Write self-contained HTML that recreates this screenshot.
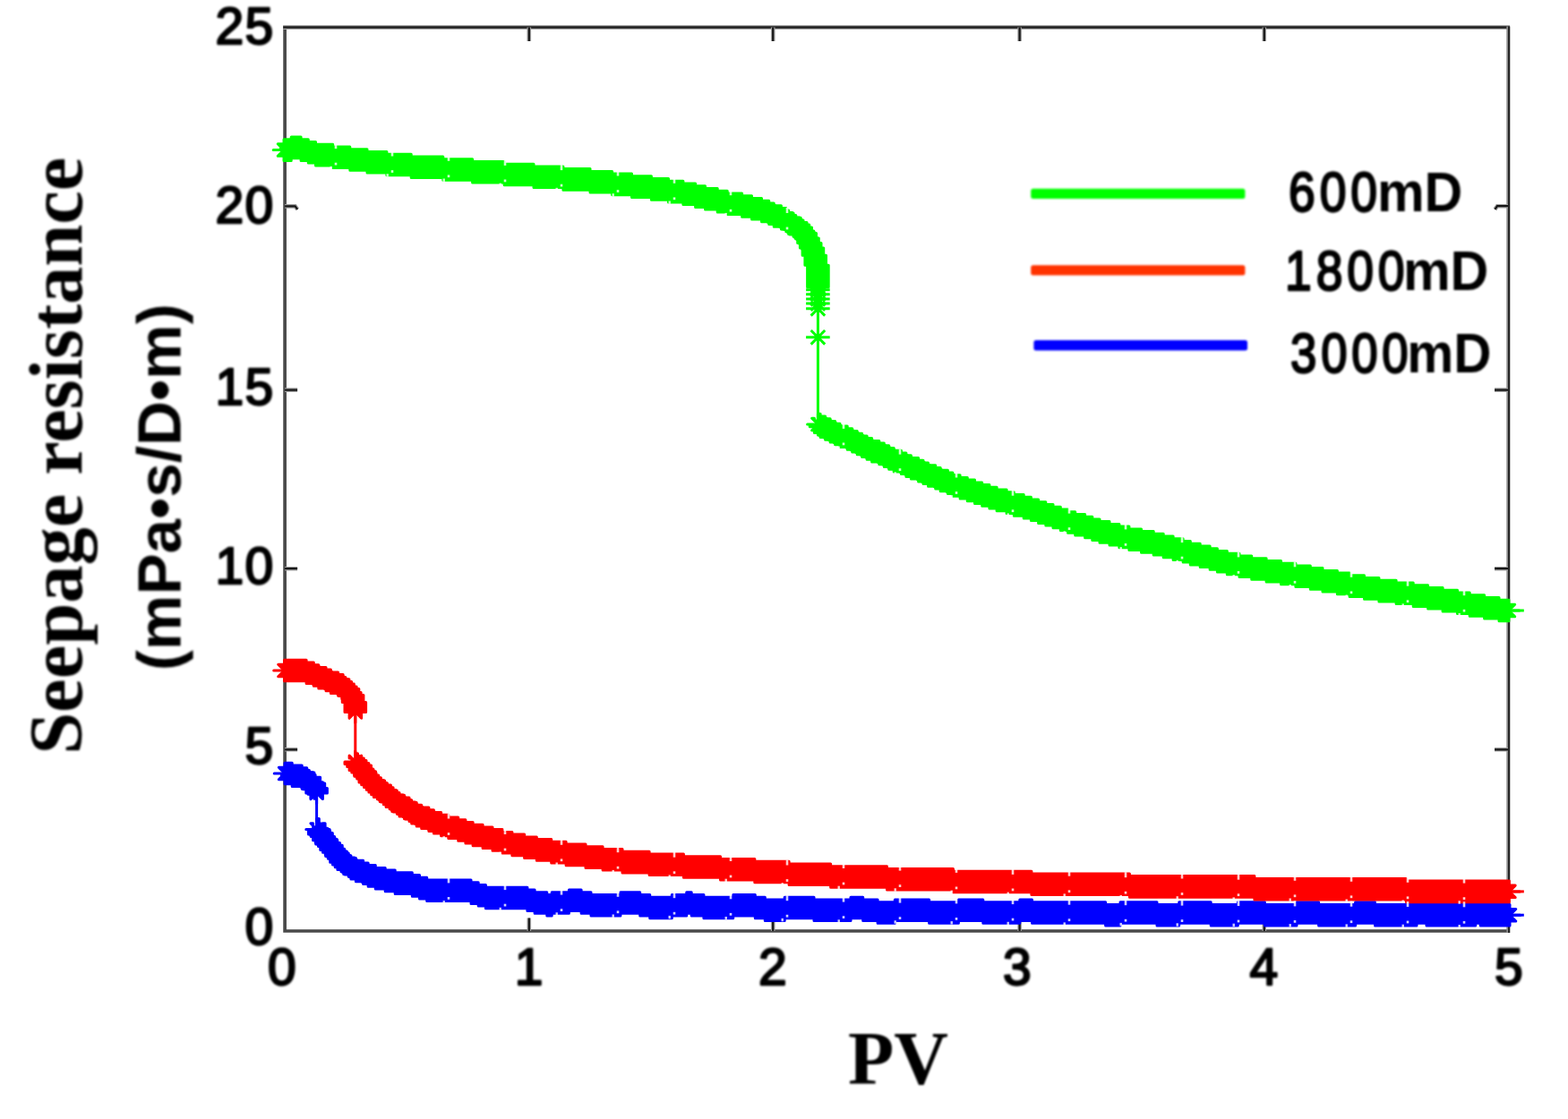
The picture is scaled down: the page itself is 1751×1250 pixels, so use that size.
<!DOCTYPE html>
<html lang="en"><head><meta charset="utf-8"><title>Seepage resistance vs PV</title>
<style>
html,body{margin:0;padding:0;background:#fff;}
body{width:1751px;height:1250px;overflow:hidden;}
svg{display:block;}
</style></head><body>
<svg width="1751" height="1250" viewBox="0 0 1751 1250">
<filter id="soft" x="-5%" y="-5%" width="110%" height="110%"><feGaussianBlur stdDeviation="1"/></filter>
<rect width="1751" height="1250" fill="#fff"/>
<g fill="none">
<path d="M318.1 30.6V1040H1684" stroke="#494949" stroke-width="3.7" stroke-linecap="square"/>
<path d="M316.2 30.6H1686" stroke="#a9a9a9" stroke-width="5"/>
<path d="M316.2 30.5H1686" stroke="#1e1e1e" stroke-width="2.3"/>
<path d="M1684.3 29.4V1042" stroke="#8a8a8a" stroke-width="4"/>
<path d="M1685.1 29.4V1042" stroke="#222" stroke-width="2.1"/>
<path d="M590.8 1040v-14.5M590.8 30.6v15.5M863.2 1040v-14.5M863.2 30.6v15.5M1138.6 1040v-14.5M1138.6 30.6v15.5M1411.8 1040v-14.5M1411.8 30.6v15.5M318.1 837.3h14M1684 837.3h-15M318.1 635.2h14M1684 635.2h-15M318.1 435.6h14M1684 435.6h-15M318.1 230.4h11.5l2.6 3.4M1684 230.2h-12l-2.6 3.6" stroke="#a0a0a0" stroke-width="4.6"/>
<path d="M590.8 1040v-14.5M590.8 30.6v15.5M863.2 1040v-14.5M863.2 30.6v15.5M1138.6 1040v-14.5M1138.6 30.6v15.5M1411.8 1040v-14.5M1411.8 30.6v15.5M318.1 837.3h14M1684 837.3h-15M318.1 635.2h14M1684 635.2h-15M318.1 435.6h14M1684 435.6h-15M318.1 230.4h11.5l2.6 3.4M1684 230.2h-12l-2.6 3.6" stroke="#161616" stroke-width="2.2"/>
</g>
<g fill="#00ff00" stroke="#00ff00" stroke-width="3" stroke-linejoin="round"><path d="M913.4 320.8V474.1M900.1 323.7h26.6M913.4 310.4v26.6M905.6 315.9l15.6 15.6M905.6 331.5l15.6 -15.6M900.1 328.8h26.6M913.4 315.5v26.6M905.6 321l15.6 15.6M905.6 336.6l15.6 -15.6M900.1 334h26.6M913.4 320.7v26.6M905.6 326.2l15.6 15.6M905.6 341.8l15.6 -15.6M900.1 339.1h26.6M913.4 325.8v26.6M905.6 331.3l15.6 15.6M905.6 346.9l15.6 -15.6M900.1 344.8h26.6M913.4 331.5v26.6M905.6 337l15.6 15.6M905.6 352.6l15.6 -15.6M900.1 376.8h26.6M913.4 363.5v26.6M905.6 369l15.6 15.6M905.6 384.6l15.6 -15.6" fill="none"/><path d="M1684.9 682H1701.8" fill="none"/><polygon points="328.8,167.6 337,167.6 337,164.9 347.9,164.9 347.9,167.6 356.1,167.6 356.1,170.3 364.3,170.3 364.3,173.1 383.5,173.1 383.5,175.8 402.6,175.8 402.6,178.5 421.8,178.5 421.8,181.3 443.7,181.3 443.7,184 471,184 471,186.8 506.6,186.8 506.6,189.5 539.4,189.5 539.4,192.2 575,192.2 575,195 607.8,195 607.8,197.7 640.7,197.7 640.7,200.4 670.8,200.4 670.8,203.2 695.4,203.2 695.4,205.9 717.3,205.9 717.3,208.6 739.2,208.6 739.2,211.4 758.3,211.4 758.3,214.1 774.7,214.1 774.7,216.8 788.4,216.8 788.4,219.6 799.3,219.6 799.3,222.3 813,222.3 813,225.1 824,225.1 824,227.8 840.4,227.8 840.4,230.5 851.3,230.5 851.3,233.3 862.3,233.3 862.3,236 870.5,236 870.5,238.7 876,238.7 876,241.5 884.2,241.5 884.2,244.2 889.6,244.2 889.6,246.9 892.4,246.9 892.4,249.7 897.8,249.7 897.8,252.4 900.6,252.4 900.6,255.2 906,255.2 906,257.9 908.8,257.9 908.8,260.6 911.5,260.6 911.5,266.1 914.3,266.1 914.3,271.6 917,271.6 917,277 919.7,277 919.7,285.2 922.5,285.2 922.5,296.2 925.2,296.2 925.2,320.8 901.6,320.8 901.6,296.2 898.9,296.2 898.9,285.2 896.1,285.2 896.1,277 893.4,277 893.4,271.6 890.7,271.6 890.7,266.1 887.9,266.1 887.9,260.6 885.2,260.6 885.2,257.9 882.4,257.9 882.4,255.2 877,255.2 877,252.4 874.2,252.4 874.2,249.7 868.8,249.7 868.8,246.9 866,246.9 866,244.2 860.6,244.2 860.6,241.5 852.4,241.5 852.4,238.7 846.9,238.7 846.9,236 838.7,236 838.7,233.3 827.7,233.3 827.7,230.5 816.8,230.5 816.8,227.8 800.4,227.8 800.4,225.1 789.4,225.1 789.4,222.3 775.7,222.3 775.7,219.6 764.8,219.6 764.8,216.8 751.1,216.8 751.1,214.1 734.7,214.1 734.7,211.4 715.6,211.4 715.6,208.6 693.7,208.6 693.7,205.9 671.8,205.9 671.8,203.2 647.2,203.2 647.2,200.4 617.1,200.4 617.1,197.7 584.2,197.7 584.2,195 551.4,195 551.4,192.2 515.8,192.2 515.8,189.5 483,189.5 483,186.8 447.4,186.8 447.4,184 420.1,184 420.1,181.3 398.2,181.3 398.2,178.5 379,178.5 379,175.8 359.9,175.8 359.9,173.1 340.7,173.1 340.7,170.3 332.5,170.3 332.5,167.6 324.3,167.6 324.3,164.9 313.4,164.9 313.4,167.6 305.2,167.6"/><polygon points="317,179.4 325.2,179.4 325.2,176.7 336.1,176.7 336.1,179.4 344.3,179.4 344.3,182.1 352.5,182.1 352.5,184.9 371.7,184.9 371.7,187.6 390.8,187.6 390.8,190.3 410,190.3 410,193.1 431.9,193.1 431.9,195.8 459.2,195.8 459.2,198.6 494.8,198.6 494.8,201.3 527.6,201.3 527.6,204 563.2,204 563.2,206.8 596,206.8 596,209.5 628.9,209.5 628.9,212.2 659,212.2 659,215 683.6,215 683.6,217.7 705.5,217.7 705.5,220.4 727.4,220.4 727.4,223.2 746.5,223.2 746.5,225.9 762.9,225.9 762.9,228.6 776.6,228.6 776.6,231.4 787.5,231.4 787.5,234.1 801.2,234.1 801.2,236.9 812.2,236.9 812.2,239.6 828.6,239.6 828.6,242.3 839.5,242.3 839.5,245.1 850.5,245.1 850.5,247.8 858.7,247.8 858.7,250.5 864.2,250.5 864.2,253.3 872.4,253.3 872.4,256 877.8,256 877.8,258.7 880.6,258.7 880.6,261.5 886,261.5 886,264.2 888.8,264.2 888.8,266.9 894.2,266.9 894.2,269.7 897,269.7 897,272.4 899.7,272.4 899.7,277.9 902.5,277.9 902.5,283.4 905.2,283.4 905.2,288.8 907.9,288.8 907.9,297 910.7,297 910.7,308 913.4,308 913.4,332.6 913.4,309 913.4,284.4 910.7,284.4 910.7,273.4 907.9,273.4 907.9,265.2 905.2,265.2 905.2,259.8 902.5,259.8 902.5,254.3 899.7,254.3 899.7,248.8 897,248.8 897,246.1 894.2,246.1 894.2,243.3 888.8,243.3 888.8,240.6 886,240.6 886,237.9 880.6,237.9 880.6,235.1 877.8,235.1 877.8,232.4 872.4,232.4 872.4,229.7 864.2,229.7 864.2,226.9 858.7,226.9 858.7,224.2 850.5,224.2 850.5,221.5 839.5,221.5 839.5,218.7 828.6,218.7 828.6,216 812.2,216 812.2,213.3 801.2,213.3 801.2,210.5 787.5,210.5 787.5,207.8 776.6,207.8 776.6,205 762.9,205 762.9,202.3 746.5,202.3 746.5,199.6 727.4,199.6 727.4,196.8 705.5,196.8 705.5,194.1 683.6,194.1 683.6,191.4 659,191.4 659,188.6 628.9,188.6 628.9,185.9 596,185.9 596,183.2 563.2,183.2 563.2,180.4 527.6,180.4 527.6,177.7 494.8,177.7 494.8,175 459.2,175 459.2,172.2 431.9,172.2 431.9,169.5 410,169.5 410,166.7 390.8,166.7 390.8,164 371.7,164 371.7,161.3 352.5,161.3 352.5,158.5 344.3,158.5 344.3,155.8 336.1,155.8 336.1,153.1 325.2,153.1 325.2,155.8 317,155.8"/><polygon points="323.7,174.3 331.9,174.3 331.9,171.6 342.9,171.6 342.9,174.3 351.1,174.3 351.1,177.1 359.3,177.1 359.3,179.8 378.4,179.8 378.4,182.6 397.6,182.6 397.6,185.3 416.7,185.3 416.7,188 438.6,188 438.6,190.8 466,190.8 466,193.5 501.6,193.5 501.6,196.2 534.4,196.2 534.4,199 569.9,199 569.9,201.7 602.8,201.7 602.8,204.4 635.6,204.4 635.6,207.2 665.7,207.2 665.7,209.9 690.3,209.9 690.3,212.7 712.2,212.7 712.2,215.4 734.1,215.4 734.1,218.1 753.3,218.1 753.3,220.9 769.7,220.9 769.7,223.6 783.4,223.6 783.4,226.3 794.3,226.3 794.3,229.1 808,229.1 808,231.8 818.9,231.8 818.9,234.5 835.3,234.5 835.3,237.3 846.3,237.3 846.3,240 857.2,240 857.2,242.7 865.4,242.7 865.4,245.5 870.9,245.5 870.9,248.2 879.1,248.2 879.1,251 884.6,251 884.6,253.7 887.3,253.7 887.3,256.4 892.8,256.4 892.8,259.2 895.5,259.2 895.5,261.9 901,261.9 901,264.6 903.7,264.6 903.7,267.4 906.5,267.4 906.5,272.8 909.2,272.8 909.2,278.3 911.9,278.3 911.9,283.8 914.7,283.8 914.7,292 917.4,292 917.4,302.9 920.1,302.9 920.1,327.6 906.6,314.1 906.6,289.4 903.9,289.4 903.9,278.5 901.2,278.5 901.2,270.3 898.4,270.3 898.4,264.8 895.7,264.8 895.7,259.3 893,259.3 893,253.9 890.2,253.9 890.2,251.1 887.5,251.1 887.5,248.4 882,248.4 882,245.7 879.3,245.7 879.3,242.9 873.8,242.9 873.8,240.2 871.1,240.2 871.1,237.5 865.6,237.5 865.6,234.7 857.4,234.7 857.4,232 851.9,232 851.9,229.2 843.7,229.2 843.7,226.5 832.8,226.5 832.8,223.8 821.8,223.8 821.8,221 805.4,221 805.4,218.3 794.5,218.3 794.5,215.6 780.8,215.6 780.8,212.8 769.9,212.8 769.9,210.1 756.2,210.1 756.2,207.4 739.8,207.4 739.8,204.6 720.6,204.6 720.6,201.9 698.7,201.9 698.7,199.2 676.8,199.2 676.8,196.4 652.2,196.4 652.2,193.7 622.1,193.7 622.1,190.9 589.3,190.9 589.3,188.2 556.4,188.2 556.4,185.5 520.9,185.5 520.9,182.7 488.1,182.7 488.1,180 452.5,180 452.5,177.3 425.1,177.3 425.1,174.5 403.2,174.5 403.2,171.8 384.1,171.8 384.1,169.1 364.9,169.1 364.9,166.3 345.8,166.3 345.8,163.6 337.6,163.6 337.6,160.8 329.4,160.8 329.4,158.1 318.4,158.1 318.4,160.8 310.2,160.8"/><polygon points="323.7,160.8 331.9,160.8 331.9,158.1 342.9,158.1 342.9,160.8 351.1,160.8 351.1,163.6 359.3,163.6 359.3,166.3 378.4,166.3 378.4,169.1 397.6,169.1 397.6,171.8 416.7,171.8 416.7,174.5 438.6,174.5 438.6,177.3 466,177.3 466,180 501.6,180 501.6,182.7 534.4,182.7 534.4,185.5 569.9,185.5 569.9,188.2 602.8,188.2 602.8,190.9 635.6,190.9 635.6,193.7 665.7,193.7 665.7,196.4 690.3,196.4 690.3,199.2 712.2,199.2 712.2,201.9 734.1,201.9 734.1,204.6 753.3,204.6 753.3,207.4 769.7,207.4 769.7,210.1 783.4,210.1 783.4,212.8 794.3,212.8 794.3,215.6 808,215.6 808,218.3 818.9,218.3 818.9,221 835.3,221 835.3,223.8 846.3,223.8 846.3,226.5 857.2,226.5 857.2,229.2 865.4,229.2 865.4,232 870.9,232 870.9,234.7 879.1,234.7 879.1,237.5 884.6,237.5 884.6,240.2 887.3,240.2 887.3,242.9 892.8,242.9 892.8,245.7 895.5,245.7 895.5,248.4 901,248.4 901,251.1 903.7,251.1 903.7,253.9 906.5,253.9 906.5,259.3 909.2,259.3 909.2,264.8 911.9,264.8 911.9,270.3 914.7,270.3 914.7,278.5 917.4,278.5 917.4,289.4 920.1,289.4 920.1,314.1 906.6,327.6 906.6,302.9 903.9,302.9 903.9,292 901.2,292 901.2,283.8 898.4,283.8 898.4,278.3 895.7,278.3 895.7,272.8 893,272.8 893,267.4 890.2,267.4 890.2,264.6 887.5,264.6 887.5,261.9 882,261.9 882,259.2 879.3,259.2 879.3,256.4 873.8,256.4 873.8,253.7 871.1,253.7 871.1,251 865.6,251 865.6,248.2 857.4,248.2 857.4,245.5 851.9,245.5 851.9,242.7 843.7,242.7 843.7,240 832.8,240 832.8,237.3 821.8,237.3 821.8,234.5 805.4,234.5 805.4,231.8 794.5,231.8 794.5,229.1 780.8,229.1 780.8,226.3 769.9,226.3 769.9,223.6 756.2,223.6 756.2,220.9 739.8,220.9 739.8,218.1 720.6,218.1 720.6,215.4 698.7,215.4 698.7,212.7 676.8,212.7 676.8,209.9 652.2,209.9 652.2,207.2 622.1,207.2 622.1,204.4 589.3,204.4 589.3,201.7 556.4,201.7 556.4,199 520.9,199 520.9,196.2 488.1,196.2 488.1,193.5 452.5,193.5 452.5,190.8 425.1,190.8 425.1,188 403.2,188 403.2,185.3 384.1,185.3 384.1,182.6 364.9,182.6 364.9,179.8 345.8,179.8 345.8,177.1 337.6,177.1 337.6,174.3 329.4,174.3 329.4,171.6 318.4,171.6 318.4,174.3 310.2,174.3"/><polygon points="925.2,474.1 927.9,474.1 927.9,476.8 933.4,476.8 933.4,479.5 938.9,479.5 938.9,482.3 944.4,482.3 944.4,485 949.8,485 949.8,487.7 958,487.7 958,490.5 963.5,490.5 963.5,493.2 969,493.2 969,496 974.4,496 974.4,498.7 979.9,498.7 979.9,501.4 985.4,501.4 985.4,504.2 993.6,504.2 993.6,506.9 999.1,506.9 999.1,509.6 1004.5,509.6 1004.5,512.4 1010,512.4 1010,515.1 1018.2,515.1 1018.2,517.8 1023.7,517.8 1023.7,520.6 1029.2,520.6 1029.2,523.3 1037.4,523.3 1037.4,526.1 1042.8,526.1 1042.8,528.8 1048.3,528.8 1048.3,531.5 1056.5,531.5 1056.5,534.3 1062,534.3 1062,537 1070.2,537 1070.2,539.7 1075.7,539.7 1075.7,542.5 1083.9,542.5 1083.9,545.2 1092.1,545.2 1092.1,547.9 1100.3,547.9 1100.3,550.7 1108.5,550.7 1108.5,553.4 1116.7,553.4 1116.7,556.1 1124.9,556.1 1124.9,558.9 1135.9,558.9 1135.9,561.6 1144.1,561.6 1144.1,564.4 1155,564.4 1155,567.1 1163.2,567.1 1163.2,569.8 1171.4,569.8 1171.4,572.6 1179.6,572.6 1179.6,575.3 1187.8,575.3 1187.8,578 1196.1,578 1196.1,580.8 1204.3,580.8 1204.3,583.5 1212.5,583.5 1212.5,586.2 1223.4,586.2 1223.4,589 1231.6,589 1231.6,591.7 1239.8,591.7 1239.8,594.4 1250.8,594.4 1250.8,597.2 1261.7,597.2 1261.7,599.9 1272.7,599.9 1272.7,602.7 1286.3,602.7 1286.3,605.4 1300,605.4 1300,608.1 1311,608.1 1311,610.9 1321.9,610.9 1321.9,613.6 1332.9,613.6 1332.9,616.3 1341.1,616.3 1341.1,619.1 1352,619.1 1352,621.8 1362.9,621.8 1362.9,624.5 1371.2,624.5 1371.2,627.3 1382.1,627.3 1382.1,630 1395.8,630 1395.8,632.8 1409.5,632.8 1409.5,635.5 1425.9,635.5 1425.9,638.2 1442.3,638.2 1442.3,641 1458.7,641 1458.7,643.7 1475.1,643.7 1475.1,646.4 1488.8,646.4 1488.8,649.2 1505.2,649.2 1505.2,651.9 1518.9,651.9 1518.9,654.6 1535.3,654.6 1535.3,657.4 1551.7,657.4 1551.7,660.1 1570.9,660.1 1570.9,662.8 1590,662.8 1590,665.6 1606.4,665.6 1606.4,668.3 1622.9,668.3 1622.9,671.1 1639.3,671.1 1639.3,673.8 1653,673.8 1653,676.5 1669.4,676.5 1669.4,679.3 1685.8,679.3 1685.8,682 1696.7,682 1673.1,682 1662.2,682 1662.2,679.3 1645.8,679.3 1645.8,676.5 1629.4,676.5 1629.4,673.8 1615.7,673.8 1615.7,671.1 1599.3,671.1 1599.3,668.3 1582.8,668.3 1582.8,665.6 1566.4,665.6 1566.4,662.8 1547.3,662.8 1547.3,660.1 1528.1,660.1 1528.1,657.4 1511.7,657.4 1511.7,654.6 1495.3,654.6 1495.3,651.9 1481.6,651.9 1481.6,649.2 1465.2,649.2 1465.2,646.4 1451.5,646.4 1451.5,643.7 1435.1,643.7 1435.1,641 1418.7,641 1418.7,638.2 1402.3,638.2 1402.3,635.5 1385.9,635.5 1385.9,632.8 1372.2,632.8 1372.2,630 1358.5,630 1358.5,627.3 1347.6,627.3 1347.6,624.5 1339.3,624.5 1339.3,621.8 1328.4,621.8 1328.4,619.1 1317.5,619.1 1317.5,616.3 1309.3,616.3 1309.3,613.6 1298.3,613.6 1298.3,610.9 1287.4,610.9 1287.4,608.1 1276.4,608.1 1276.4,605.4 1262.7,605.4 1262.7,602.7 1249.1,602.7 1249.1,599.9 1238.1,599.9 1238.1,597.2 1227.2,597.2 1227.2,594.4 1216.2,594.4 1216.2,591.7 1208,591.7 1208,589 1199.8,589 1199.8,586.2 1188.9,586.2 1188.9,583.5 1180.7,583.5 1180.7,580.8 1172.5,580.8 1172.5,578 1164.2,578 1164.2,575.3 1156,575.3 1156,572.6 1147.8,572.6 1147.8,569.8 1139.6,569.8 1139.6,567.1 1131.4,567.1 1131.4,564.4 1120.5,564.4 1120.5,561.6 1112.3,561.6 1112.3,558.9 1101.3,558.9 1101.3,556.1 1093.1,556.1 1093.1,553.4 1084.9,553.4 1084.9,550.7 1076.7,550.7 1076.7,547.9 1068.5,547.9 1068.5,545.2 1060.3,545.2 1060.3,542.5 1052.1,542.5 1052.1,539.7 1046.6,539.7 1046.6,537 1038.4,537 1038.4,534.3 1032.9,534.3 1032.9,531.5 1024.7,531.5 1024.7,528.8 1019.2,528.8 1019.2,526.1 1013.8,526.1 1013.8,523.3 1005.6,523.3 1005.6,520.6 1000.1,520.6 1000.1,517.8 994.6,517.8 994.6,515.1 986.4,515.1 986.4,512.4 980.9,512.4 980.9,509.6 975.5,509.6 975.5,506.9 970,506.9 970,504.2 961.8,504.2 961.8,501.4 956.3,501.4 956.3,498.7 950.8,498.7 950.8,496 945.4,496 945.4,493.2 939.9,493.2 939.9,490.5 934.4,490.5 934.4,487.7 926.2,487.7 926.2,485 920.8,485 920.8,482.3 915.3,482.3 915.3,479.5 909.8,479.5 909.8,476.8 904.3,476.8 904.3,474.1 901.6,474.1"/><polygon points="913.4,485.9 916.1,485.9 916.1,488.6 921.6,488.6 921.6,491.3 927.1,491.3 927.1,494.1 932.6,494.1 932.6,496.8 938,496.8 938,499.5 946.2,499.5 946.2,502.3 951.7,502.3 951.7,505 957.2,505 957.2,507.8 962.6,507.8 962.6,510.5 968.1,510.5 968.1,513.2 973.6,513.2 973.6,516 981.8,516 981.8,518.7 987.3,518.7 987.3,521.4 992.7,521.4 992.7,524.2 998.2,524.2 998.2,526.9 1006.4,526.9 1006.4,529.6 1011.9,529.6 1011.9,532.4 1017.4,532.4 1017.4,535.1 1025.6,535.1 1025.6,537.9 1031,537.9 1031,540.6 1036.5,540.6 1036.5,543.3 1044.7,543.3 1044.7,546.1 1050.2,546.1 1050.2,548.8 1058.4,548.8 1058.4,551.5 1063.9,551.5 1063.9,554.3 1072.1,554.3 1072.1,557 1080.3,557 1080.3,559.7 1088.5,559.7 1088.5,562.5 1096.7,562.5 1096.7,565.2 1104.9,565.2 1104.9,567.9 1113.1,567.9 1113.1,570.7 1124.1,570.7 1124.1,573.4 1132.3,573.4 1132.3,576.2 1143.2,576.2 1143.2,578.9 1151.4,578.9 1151.4,581.6 1159.6,581.6 1159.6,584.4 1167.8,584.4 1167.8,587.1 1176,587.1 1176,589.8 1184.3,589.8 1184.3,592.6 1192.5,592.6 1192.5,595.3 1200.7,595.3 1200.7,598 1211.6,598 1211.6,600.8 1219.8,600.8 1219.8,603.5 1228,603.5 1228,606.2 1239,606.2 1239,609 1249.9,609 1249.9,611.7 1260.9,611.7 1260.9,614.5 1274.5,614.5 1274.5,617.2 1288.2,617.2 1288.2,619.9 1299.2,619.9 1299.2,622.7 1310.1,622.7 1310.1,625.4 1321.1,625.4 1321.1,628.1 1329.3,628.1 1329.3,630.9 1340.2,630.9 1340.2,633.6 1351.1,633.6 1351.1,636.3 1359.4,636.3 1359.4,639.1 1370.3,639.1 1370.3,641.8 1384,641.8 1384,644.6 1397.7,644.6 1397.7,647.3 1414.1,647.3 1414.1,650 1430.5,650 1430.5,652.8 1446.9,652.8 1446.9,655.5 1463.3,655.5 1463.3,658.2 1477,658.2 1477,661 1493.4,661 1493.4,663.7 1507.1,663.7 1507.1,666.4 1523.5,666.4 1523.5,669.2 1539.9,669.2 1539.9,671.9 1559.1,671.9 1559.1,674.6 1578.2,674.6 1578.2,677.4 1594.6,677.4 1594.6,680.1 1611.1,680.1 1611.1,682.9 1627.5,682.9 1627.5,685.6 1641.2,685.6 1641.2,688.3 1657.6,688.3 1657.6,691.1 1674,691.1 1674,693.8 1684.9,693.8 1684.9,670.2 1674,670.2 1674,667.5 1657.6,667.5 1657.6,664.7 1641.2,664.7 1641.2,662 1627.5,662 1627.5,659.3 1611.1,659.3 1611.1,656.5 1594.6,656.5 1594.6,653.8 1578.2,653.8 1578.2,651 1559.1,651 1559.1,648.3 1539.9,648.3 1539.9,645.6 1523.5,645.6 1523.5,642.8 1507.1,642.8 1507.1,640.1 1493.4,640.1 1493.4,637.4 1477,637.4 1477,634.6 1463.3,634.6 1463.3,631.9 1446.9,631.9 1446.9,629.2 1430.5,629.2 1430.5,626.4 1414.1,626.4 1414.1,623.7 1397.7,623.7 1397.7,621 1384,621 1384,618.2 1370.3,618.2 1370.3,615.5 1359.4,615.5 1359.4,612.7 1351.1,612.7 1351.1,610 1340.2,610 1340.2,607.3 1329.3,607.3 1329.3,604.5 1321.1,604.5 1321.1,601.8 1310.1,601.8 1310.1,599.1 1299.2,599.1 1299.2,596.3 1288.2,596.3 1288.2,593.6 1274.5,593.6 1274.5,590.9 1260.9,590.9 1260.9,588.1 1249.9,588.1 1249.9,585.4 1239,585.4 1239,582.6 1228,582.6 1228,579.9 1219.8,579.9 1219.8,577.2 1211.6,577.2 1211.6,574.4 1200.7,574.4 1200.7,571.7 1192.5,571.7 1192.5,569 1184.3,569 1184.3,566.2 1176,566.2 1176,563.5 1167.8,563.5 1167.8,560.8 1159.6,560.8 1159.6,558 1151.4,558 1151.4,555.3 1143.2,555.3 1143.2,552.6 1132.3,552.6 1132.3,549.8 1124.1,549.8 1124.1,547.1 1113.1,547.1 1113.1,544.3 1104.9,544.3 1104.9,541.6 1096.7,541.6 1096.7,538.9 1088.5,538.9 1088.5,536.1 1080.3,536.1 1080.3,533.4 1072.1,533.4 1072.1,530.7 1063.9,530.7 1063.9,527.9 1058.4,527.9 1058.4,525.2 1050.2,525.2 1050.2,522.5 1044.7,522.5 1044.7,519.7 1036.5,519.7 1036.5,517 1031,517 1031,514.3 1025.6,514.3 1025.6,511.5 1017.4,511.5 1017.4,508.8 1011.9,508.8 1011.9,506 1006.4,506 1006.4,503.3 998.2,503.3 998.2,500.6 992.7,500.6 992.7,497.8 987.3,497.8 987.3,495.1 981.8,495.1 981.8,492.4 973.6,492.4 973.6,489.6 968.1,489.6 968.1,486.9 962.6,486.9 962.6,484.2 957.2,484.2 957.2,481.4 951.7,481.4 951.7,478.7 946.2,478.7 946.2,475.9 938,475.9 938,473.2 932.6,473.2 932.6,470.5 927.1,470.5 927.1,467.7 921.6,467.7 921.6,465 916.1,465 916.1,462.3 913.4,462.3"/><polygon points="920.1,480.8 922.9,480.8 922.9,483.6 928.4,483.6 928.4,486.3 933.8,486.3 933.8,489 939.3,489 939.3,491.8 944.8,491.8 944.8,494.5 953,494.5 953,497.2 958.5,497.2 958.5,500 963.9,500 963.9,502.7 969.4,502.7 969.4,505.4 974.9,505.4 974.9,508.2 980.3,508.2 980.3,510.9 988.5,510.9 988.5,513.6 994,513.6 994,516.4 999.5,516.4 999.5,519.1 1005,519.1 1005,521.9 1013.2,521.9 1013.2,524.6 1018.6,524.6 1018.6,527.3 1024.1,527.3 1024.1,530.1 1032.3,530.1 1032.3,532.8 1037.8,532.8 1037.8,535.5 1043.3,535.5 1043.3,538.3 1051.5,538.3 1051.5,541 1056.9,541 1056.9,543.7 1065.2,543.7 1065.2,546.5 1070.6,546.5 1070.6,549.2 1078.8,549.2 1078.8,552 1087,552 1087,554.7 1095.2,554.7 1095.2,557.4 1103.5,557.4 1103.5,560.2 1111.7,560.2 1111.7,562.9 1119.9,562.9 1119.9,565.6 1130.8,565.6 1130.8,568.4 1139,568.4 1139,571.1 1150,571.1 1150,573.8 1158.2,573.8 1158.2,576.6 1166.4,576.6 1166.4,579.3 1174.6,579.3 1174.6,582 1182.8,582 1182.8,584.8 1191,584.8 1191,587.5 1199.2,587.5 1199.2,590.3 1207.4,590.3 1207.4,593 1218.4,593 1218.4,595.7 1226.6,595.7 1226.6,598.5 1234.8,598.5 1234.8,601.2 1245.7,601.2 1245.7,603.9 1256.7,603.9 1256.7,606.7 1267.6,606.7 1267.6,609.4 1281.3,609.4 1281.3,612.1 1295,612.1 1295,614.9 1305.9,614.9 1305.9,617.6 1316.9,617.6 1316.9,620.4 1327.8,620.4 1327.8,623.1 1336,623.1 1336,625.8 1347,625.8 1347,628.6 1357.9,628.6 1357.9,631.3 1366.1,631.3 1366.1,634 1377.1,634 1377.1,636.8 1390.7,636.8 1390.7,639.5 1404.4,639.5 1404.4,642.2 1420.8,642.2 1420.8,645 1437.2,645 1437.2,647.7 1453.7,647.7 1453.7,650.4 1470.1,650.4 1470.1,653.2 1483.8,653.2 1483.8,655.9 1500.2,655.9 1500.2,658.7 1513.8,658.7 1513.8,661.4 1530.3,661.4 1530.3,664.1 1546.7,664.1 1546.7,666.9 1565.8,666.9 1565.8,669.6 1585,669.6 1585,672.3 1601.4,672.3 1601.4,675.1 1617.8,675.1 1617.8,677.8 1634.2,677.8 1634.2,680.5 1647.9,680.5 1647.9,683.3 1664.3,683.3 1664.3,686 1680.7,686 1680.7,688.8 1691.7,688.8 1678.2,675.2 1667.2,675.2 1667.2,672.5 1650.8,672.5 1650.8,669.8 1634.4,669.8 1634.4,667 1620.7,667 1620.7,664.3 1604.3,664.3 1604.3,661.6 1587.9,661.6 1587.9,658.8 1571.5,658.8 1571.5,656.1 1552.3,656.1 1552.3,653.4 1533.2,653.4 1533.2,650.6 1516.8,650.6 1516.8,647.9 1500.3,647.9 1500.3,645.2 1486.7,645.2 1486.7,642.4 1470.3,642.4 1470.3,639.7 1456.6,639.7 1456.6,636.9 1440.2,636.9 1440.2,634.2 1423.7,634.2 1423.7,631.5 1407.3,631.5 1407.3,628.7 1390.9,628.7 1390.9,626 1377.2,626 1377.2,623.3 1363.6,623.3 1363.6,620.5 1352.6,620.5 1352.6,617.8 1344.4,617.8 1344.4,615.1 1333.5,615.1 1333.5,612.3 1322.5,612.3 1322.5,609.6 1314.3,609.6 1314.3,606.9 1303.4,606.9 1303.4,604.1 1292.4,604.1 1292.4,601.4 1281.5,601.4 1281.5,598.6 1267.8,598.6 1267.8,595.9 1254.1,595.9 1254.1,593.2 1243.2,593.2 1243.2,590.4 1232.2,590.4 1232.2,587.7 1221.3,587.7 1221.3,585 1213.1,585 1213.1,582.2 1204.9,582.2 1204.9,579.5 1193.9,579.5 1193.9,576.8 1185.7,576.8 1185.7,574 1177.5,574 1177.5,571.3 1169.3,571.3 1169.3,568.5 1161.1,568.5 1161.1,565.8 1152.9,565.8 1152.9,563.1 1144.7,563.1 1144.7,560.3 1136.5,560.3 1136.5,557.6 1125.5,557.6 1125.5,554.9 1117.3,554.9 1117.3,552.1 1106.4,552.1 1106.4,549.4 1098.2,549.4 1098.2,546.7 1090,546.7 1090,543.9 1081.8,543.9 1081.8,541.2 1073.5,541.2 1073.5,538.5 1065.3,538.5 1065.3,535.7 1057.1,535.7 1057.1,533 1051.7,533 1051.7,530.2 1043.4,530.2 1043.4,527.5 1038,527.5 1038,524.8 1029.8,524.8 1029.8,522 1024.3,522 1024.3,519.3 1018.8,519.3 1018.8,516.6 1010.6,516.6 1010.6,513.8 1005.1,513.8 1005.1,511.1 999.7,511.1 999.7,508.4 991.5,508.4 991.5,505.6 986,505.6 986,502.9 980.5,502.9 980.5,500.1 975,500.1 975,497.4 966.8,497.4 966.8,494.7 961.4,494.7 961.4,491.9 955.9,491.9 955.9,489.2 950.4,489.2 950.4,486.5 945,486.5 945,483.7 939.5,483.7 939.5,481 931.3,481 931.3,478.3 925.8,478.3 925.8,475.5 920.3,475.5 920.3,472.8 914.9,472.8 914.9,470.1 909.4,470.1 909.4,467.3 906.6,467.3"/><polygon points="920.1,467.3 922.9,467.3 922.9,470.1 928.4,470.1 928.4,472.8 933.8,472.8 933.8,475.5 939.3,475.5 939.3,478.3 944.8,478.3 944.8,481 953,481 953,483.7 958.5,483.7 958.5,486.5 963.9,486.5 963.9,489.2 969.4,489.2 969.4,491.9 974.9,491.9 974.9,494.7 980.3,494.7 980.3,497.4 988.5,497.4 988.5,500.1 994,500.1 994,502.9 999.5,502.9 999.5,505.6 1005,505.6 1005,508.4 1013.2,508.4 1013.2,511.1 1018.6,511.1 1018.6,513.8 1024.1,513.8 1024.1,516.6 1032.3,516.6 1032.3,519.3 1037.8,519.3 1037.8,522 1043.3,522 1043.3,524.8 1051.5,524.8 1051.5,527.5 1056.9,527.5 1056.9,530.2 1065.2,530.2 1065.2,533 1070.6,533 1070.6,535.7 1078.8,535.7 1078.8,538.5 1087,538.5 1087,541.2 1095.2,541.2 1095.2,543.9 1103.5,543.9 1103.5,546.7 1111.7,546.7 1111.7,549.4 1119.9,549.4 1119.9,552.1 1130.8,552.1 1130.8,554.9 1139,554.9 1139,557.6 1150,557.6 1150,560.3 1158.2,560.3 1158.2,563.1 1166.4,563.1 1166.4,565.8 1174.6,565.8 1174.6,568.5 1182.8,568.5 1182.8,571.3 1191,571.3 1191,574 1199.2,574 1199.2,576.8 1207.4,576.8 1207.4,579.5 1218.4,579.5 1218.4,582.2 1226.6,582.2 1226.6,585 1234.8,585 1234.8,587.7 1245.7,587.7 1245.7,590.4 1256.7,590.4 1256.7,593.2 1267.6,593.2 1267.6,595.9 1281.3,595.9 1281.3,598.6 1295,598.6 1295,601.4 1305.9,601.4 1305.9,604.1 1316.9,604.1 1316.9,606.9 1327.8,606.9 1327.8,609.6 1336,609.6 1336,612.3 1347,612.3 1347,615.1 1357.9,615.1 1357.9,617.8 1366.1,617.8 1366.1,620.5 1377.1,620.5 1377.1,623.3 1390.7,623.3 1390.7,626 1404.4,626 1404.4,628.7 1420.8,628.7 1420.8,631.5 1437.2,631.5 1437.2,634.2 1453.7,634.2 1453.7,636.9 1470.1,636.9 1470.1,639.7 1483.8,639.7 1483.8,642.4 1500.2,642.4 1500.2,645.2 1513.8,645.2 1513.8,647.9 1530.3,647.9 1530.3,650.6 1546.7,650.6 1546.7,653.4 1565.8,653.4 1565.8,656.1 1585,656.1 1585,658.8 1601.4,658.8 1601.4,661.6 1617.8,661.6 1617.8,664.3 1634.2,664.3 1634.2,667 1647.9,667 1647.9,669.8 1664.3,669.8 1664.3,672.5 1680.7,672.5 1680.7,675.2 1691.7,675.2 1678.2,688.8 1667.2,688.8 1667.2,686 1650.8,686 1650.8,683.3 1634.4,683.3 1634.4,680.5 1620.7,680.5 1620.7,677.8 1604.3,677.8 1604.3,675.1 1587.9,675.1 1587.9,672.3 1571.5,672.3 1571.5,669.6 1552.3,669.6 1552.3,666.9 1533.2,666.9 1533.2,664.1 1516.8,664.1 1516.8,661.4 1500.3,661.4 1500.3,658.7 1486.7,658.7 1486.7,655.9 1470.3,655.9 1470.3,653.2 1456.6,653.2 1456.6,650.4 1440.2,650.4 1440.2,647.7 1423.7,647.7 1423.7,645 1407.3,645 1407.3,642.2 1390.9,642.2 1390.9,639.5 1377.2,639.5 1377.2,636.8 1363.6,636.8 1363.6,634 1352.6,634 1352.6,631.3 1344.4,631.3 1344.4,628.6 1333.5,628.6 1333.5,625.8 1322.5,625.8 1322.5,623.1 1314.3,623.1 1314.3,620.4 1303.4,620.4 1303.4,617.6 1292.4,617.6 1292.4,614.9 1281.5,614.9 1281.5,612.1 1267.8,612.1 1267.8,609.4 1254.1,609.4 1254.1,606.7 1243.2,606.7 1243.2,603.9 1232.2,603.9 1232.2,601.2 1221.3,601.2 1221.3,598.5 1213.1,598.5 1213.1,595.7 1204.9,595.7 1204.9,593 1193.9,593 1193.9,590.3 1185.7,590.3 1185.7,587.5 1177.5,587.5 1177.5,584.8 1169.3,584.8 1169.3,582 1161.1,582 1161.1,579.3 1152.9,579.3 1152.9,576.6 1144.7,576.6 1144.7,573.8 1136.5,573.8 1136.5,571.1 1125.5,571.1 1125.5,568.4 1117.3,568.4 1117.3,565.6 1106.4,565.6 1106.4,562.9 1098.2,562.9 1098.2,560.2 1090,560.2 1090,557.4 1081.8,557.4 1081.8,554.7 1073.5,554.7 1073.5,552 1065.3,552 1065.3,549.2 1057.1,549.2 1057.1,546.5 1051.7,546.5 1051.7,543.7 1043.4,543.7 1043.4,541 1038,541 1038,538.3 1029.8,538.3 1029.8,535.5 1024.3,535.5 1024.3,532.8 1018.8,532.8 1018.8,530.1 1010.6,530.1 1010.6,527.3 1005.1,527.3 1005.1,524.6 999.7,524.6 999.7,521.9 991.5,521.9 991.5,519.1 986,519.1 986,516.4 980.5,516.4 980.5,513.6 975,513.6 975,510.9 966.8,510.9 966.8,508.2 961.4,508.2 961.4,505.4 955.9,505.4 955.9,502.7 950.4,502.7 950.4,500 945,500 945,497.2 939.5,497.2 939.5,494.5 931.3,494.5 931.3,491.8 925.8,491.8 925.8,489 920.3,489 920.3,486.3 914.9,486.3 914.9,483.6 909.4,483.6 909.4,480.8 906.6,480.8"/></g>
<g fill="#0000ff" stroke="#0000ff" stroke-width="3" stroke-linejoin="round"><path d="M353.6 885.9V926.4" fill="none"/><path d="M1686 1022.2H1701.8" fill="none"/><polygon points="329.8,864 338,864 338,866.7 349,866.7 349,869.5 354.5,869.5 354.5,872.2 357.2,872.2 357.2,874.9 362.7,874.9 362.7,880.4 365.4,880.4 365.4,885.9 341.8,885.9 341.8,880.4 339.1,880.4 339.1,874.9 333.6,874.9 333.6,872.2 330.9,872.2 330.9,869.5 325.4,869.5 325.4,866.7 314.4,866.7 314.4,864 306.2,864"/><polygon points="318,875.8 326.2,875.8 326.2,878.5 337.2,878.5 337.2,881.3 342.7,881.3 342.7,884 345.4,884 345.4,886.7 350.9,886.7 350.9,892.2 353.6,892.2 353.6,897.7 353.6,874.1 353.6,868.6 350.9,868.6 350.9,863.1 345.4,863.1 345.4,860.4 342.7,860.4 342.7,857.7 337.2,857.7 337.2,854.9 326.2,854.9 326.2,852.2 318,852.2"/><polygon points="324.8,870.8 333,870.8 333,873.5 343.9,873.5 343.9,876.2 349.4,876.2 349.4,879 352.1,879 352.1,881.7 357.6,881.7 357.6,887.2 360.4,887.2 360.4,892.6 346.9,879.1 346.9,873.7 344.1,873.7 344.1,868.2 338.6,868.2 338.6,865.5 335.9,865.5 335.9,862.7 330.4,862.7 330.4,860 319.5,860 319.5,857.2 311.3,857.2"/><polygon points="324.8,857.2 333,857.2 333,860 343.9,860 343.9,862.7 349.4,862.7 349.4,865.5 352.1,865.5 352.1,868.2 357.6,868.2 357.6,873.7 360.4,873.7 360.4,879.1 346.9,892.6 346.9,887.2 344.1,887.2 344.1,881.7 338.6,881.7 338.6,879 335.9,879 335.9,876.2 330.4,876.2 330.4,873.5 319.5,873.5 319.5,870.8 311.3,870.8"/><polygon points="365.4,926.4 368.1,926.4 368.1,931.9 370.9,931.9 370.9,934.6 373.6,934.6 373.6,937.4 376.3,937.4 376.3,942.9 379.1,942.9 379.1,945.6 381.8,945.6 381.8,948.3 384.6,948.3 384.6,951.1 387.3,951.1 387.3,956.5 390,956.5 390,959.3 392.8,959.3 392.8,962 395.5,962 395.5,964.7 401,964.7 401,967.5 403.7,967.5 403.7,970.2 409.2,970.2 409.2,973 417.4,973 417.4,975.7 422.9,975.7 422.9,978.4 431.1,978.4 431.1,981.2 442,981.2 442,983.9 453,983.9 453,986.6 472.1,986.6 472.1,989.4 480.3,989.4 480.3,992.1 488.5,992.1 488.5,994.8 537.8,994.8 537.8,997.6 546,997.6 546,1000.3 554.2,1000.3 554.2,1003 600.7,1003 600.7,1005.8 608.9,1005.8 608.9,1008.5 622.6,1008.5 622.6,1011.3 628,1011.3 628,1008.5 647.2,1008.5 647.2,1005.8 660.9,1005.8 660.9,1008.5 671.8,1008.5 671.8,1011.3 704.7,1011.3 704.7,1008.5 726.5,1008.5 726.5,1011.3 737.5,1011.3 737.5,1014 762.1,1014 762.1,1011.3 778.5,1011.3 778.5,1008.5 784,1008.5 784,1011.3 797.7,1011.3 797.7,1014 830.5,1014 830.5,1011.3 855.1,1011.3 855.1,1014 866.1,1014 866.1,1016.7 888,1016.7 888,1014 920.8,1014 920.8,1016.7 961.8,1016.7 961.8,1014 975.5,1014 975.5,1016.7 991.9,1016.7 991.9,1019.5 1011.1,1019.5 1011.1,1016.7 1049.4,1016.7 1049.4,1019.5 1082.2,1019.5 1082.2,1016.7 1109.6,1016.7 1109.6,1019.5 1150.6,1019.5 1150.6,1016.7 1164.3,1016.7 1164.3,1019.5 1246.4,1019.5 1246.4,1022.2 1262.8,1022.2 1262.8,1019.5 1303.8,1019.5 1303.8,1022.2 1328.5,1022.2 1328.5,1019.5 1364,1019.5 1364,1022.2 1394.1,1022.2 1394.1,1019.5 1424.2,1019.5 1424.2,1022.2 1459.8,1022.2 1459.8,1019.5 1484.4,1019.5 1484.4,1022.2 1525.4,1022.2 1525.4,1019.5 1547.3,1019.5 1547.3,1022.2 1593.8,1022.2 1593.8,1019.5 1604.8,1019.5 1604.8,1022.2 1659.5,1022.2 1659.5,1019.5 1665,1019.5 1665,1022.2 1697.8,1022.2 1674.2,1022.2 1641.4,1022.2 1641.4,1019.5 1635.9,1019.5 1635.9,1022.2 1581.2,1022.2 1581.2,1019.5 1570.2,1019.5 1570.2,1022.2 1523.7,1022.2 1523.7,1019.5 1501.8,1019.5 1501.8,1022.2 1460.8,1022.2 1460.8,1019.5 1436.2,1019.5 1436.2,1022.2 1400.6,1022.2 1400.6,1019.5 1370.5,1019.5 1370.5,1022.2 1340.4,1022.2 1340.4,1019.5 1304.9,1019.5 1304.9,1022.2 1280.2,1022.2 1280.2,1019.5 1239.2,1019.5 1239.2,1022.2 1222.8,1022.2 1222.8,1019.5 1140.7,1019.5 1140.7,1016.7 1127,1016.7 1127,1019.5 1086,1019.5 1086,1016.7 1058.6,1016.7 1058.6,1019.5 1025.8,1019.5 1025.8,1016.7 987.5,1016.7 987.5,1019.5 968.3,1019.5 968.3,1016.7 951.9,1016.7 951.9,1014 938.2,1014 938.2,1016.7 897.2,1016.7 897.2,1014 864.4,1014 864.4,1016.7 842.5,1016.7 842.5,1014 831.5,1014 831.5,1011.3 806.9,1011.3 806.9,1014 774.1,1014 774.1,1011.3 760.4,1011.3 760.4,1008.5 754.9,1008.5 754.9,1011.3 738.5,1011.3 738.5,1014 713.9,1014 713.9,1011.3 702.9,1011.3 702.9,1008.5 681.1,1008.5 681.1,1011.3 648.2,1011.3 648.2,1008.5 637.3,1008.5 637.3,1005.8 623.6,1005.8 623.6,1008.5 604.5,1008.5 604.5,1011.3 599,1011.3 599,1008.5 585.3,1008.5 585.3,1005.8 577.1,1005.8 577.1,1003 530.6,1003 530.6,1000.3 522.4,1000.3 522.4,997.6 514.2,997.6 514.2,994.8 464.9,994.8 464.9,992.1 456.7,992.1 456.7,989.4 448.5,989.4 448.5,986.6 429.4,986.6 429.4,983.9 418.4,983.9 418.4,981.2 407.5,981.2 407.5,978.4 399.3,978.4 399.3,975.7 393.8,975.7 393.8,973 385.6,973 385.6,970.2 380.1,970.2 380.1,967.5 377.4,967.5 377.4,964.7 371.9,964.7 371.9,962 369.2,962 369.2,959.3 366.4,959.3 366.4,956.5 363.7,956.5 363.7,951.1 361,951.1 361,948.3 358.2,948.3 358.2,945.6 355.5,945.6 355.5,942.9 352.7,942.9 352.7,937.4 350,937.4 350,934.6 347.3,934.6 347.3,931.9 344.5,931.9 344.5,926.4 341.8,926.4"/><polygon points="353.6,938.2 356.3,938.2 356.3,943.7 359.1,943.7 359.1,946.4 361.8,946.4 361.8,949.2 364.5,949.2 364.5,954.7 367.3,954.7 367.3,957.4 370,957.4 370,960.1 372.8,960.1 372.8,962.9 375.5,962.9 375.5,968.3 378.2,968.3 378.2,971.1 381,971.1 381,973.8 383.7,973.8 383.7,976.5 389.2,976.5 389.2,979.3 391.9,979.3 391.9,982 397.4,982 397.4,984.8 405.6,984.8 405.6,987.5 411.1,987.5 411.1,990.2 419.3,990.2 419.3,993 430.2,993 430.2,995.7 441.2,995.7 441.2,998.4 460.3,998.4 460.3,1001.2 468.5,1001.2 468.5,1003.9 476.7,1003.9 476.7,1006.6 526,1006.6 526,1009.4 534.2,1009.4 534.2,1012.1 542.4,1012.1 542.4,1014.8 588.9,1014.8 588.9,1017.6 597.1,1017.6 597.1,1020.3 610.8,1020.3 610.8,1023.1 616.2,1023.1 616.2,1020.3 635.4,1020.3 635.4,1017.6 649.1,1017.6 649.1,1020.3 660,1020.3 660,1023.1 692.9,1023.1 692.9,1020.3 714.7,1020.3 714.7,1023.1 725.7,1023.1 725.7,1025.8 750.3,1025.8 750.3,1023.1 766.7,1023.1 766.7,1020.3 772.2,1020.3 772.2,1023.1 785.9,1023.1 785.9,1025.8 818.7,1025.8 818.7,1023.1 843.3,1023.1 843.3,1025.8 854.3,1025.8 854.3,1028.5 876.2,1028.5 876.2,1025.8 909,1025.8 909,1028.5 950,1028.5 950,1025.8 963.7,1025.8 963.7,1028.5 980.1,1028.5 980.1,1031.3 999.3,1031.3 999.3,1028.5 1037.6,1028.5 1037.6,1031.3 1070.4,1031.3 1070.4,1028.5 1097.8,1028.5 1097.8,1031.3 1138.8,1031.3 1138.8,1028.5 1152.5,1028.5 1152.5,1031.3 1234.6,1031.3 1234.6,1034 1251,1034 1251,1031.3 1292,1031.3 1292,1034 1316.7,1034 1316.7,1031.3 1352.2,1031.3 1352.2,1034 1382.3,1034 1382.3,1031.3 1412.4,1031.3 1412.4,1034 1448,1034 1448,1031.3 1472.6,1031.3 1472.6,1034 1513.6,1034 1513.6,1031.3 1535.5,1031.3 1535.5,1034 1582,1034 1582,1031.3 1593,1031.3 1593,1034 1647.7,1034 1647.7,1031.3 1653.2,1031.3 1653.2,1034 1686,1034 1686,1010.4 1653.2,1010.4 1653.2,1007.7 1647.7,1007.7 1647.7,1010.4 1593,1010.4 1593,1007.7 1582,1007.7 1582,1010.4 1535.5,1010.4 1535.5,1007.7 1513.6,1007.7 1513.6,1010.4 1472.6,1010.4 1472.6,1007.7 1448,1007.7 1448,1010.4 1412.4,1010.4 1412.4,1007.7 1382.3,1007.7 1382.3,1010.4 1352.2,1010.4 1352.2,1007.7 1316.7,1007.7 1316.7,1010.4 1292,1010.4 1292,1007.7 1251,1007.7 1251,1010.4 1234.6,1010.4 1234.6,1007.7 1152.5,1007.7 1152.5,1004.9 1138.8,1004.9 1138.8,1007.7 1097.8,1007.7 1097.8,1004.9 1070.4,1004.9 1070.4,1007.7 1037.6,1007.7 1037.6,1004.9 999.3,1004.9 999.3,1007.7 980.1,1007.7 980.1,1004.9 963.7,1004.9 963.7,1002.2 950,1002.2 950,1004.9 909,1004.9 909,1002.2 876.2,1002.2 876.2,1004.9 854.3,1004.9 854.3,1002.2 843.3,1002.2 843.3,999.5 818.7,999.5 818.7,1002.2 785.9,1002.2 785.9,999.5 772.2,999.5 772.2,996.7 766.7,996.7 766.7,999.5 750.3,999.5 750.3,1002.2 725.7,1002.2 725.7,999.5 714.7,999.5 714.7,996.7 692.9,996.7 692.9,999.5 660,999.5 660,996.7 649.1,996.7 649.1,994 635.4,994 635.4,996.7 616.2,996.7 616.2,999.5 610.8,999.5 610.8,996.7 597.1,996.7 597.1,994 588.9,994 588.9,991.2 542.4,991.2 542.4,988.5 534.2,988.5 534.2,985.8 526,985.8 526,983 476.7,983 476.7,980.3 468.5,980.3 468.5,977.6 460.3,977.6 460.3,974.8 441.2,974.8 441.2,972.1 430.2,972.1 430.2,969.4 419.3,969.4 419.3,966.6 411.1,966.6 411.1,963.9 405.6,963.9 405.6,961.2 397.4,961.2 397.4,958.4 391.9,958.4 391.9,955.7 389.2,955.7 389.2,952.9 383.7,952.9 383.7,950.2 381,950.2 381,947.5 378.2,947.5 378.2,944.7 375.5,944.7 375.5,939.3 372.8,939.3 372.8,936.5 370,936.5 370,933.8 367.3,933.8 367.3,931.1 364.5,931.1 364.5,925.6 361.8,925.6 361.8,922.9 359.1,922.9 359.1,920.1 356.3,920.1 356.3,914.6 353.6,914.6"/><polygon points="360.4,933.2 363.1,933.2 363.1,938.7 365.8,938.7 365.8,941.4 368.6,941.4 368.6,944.1 371.3,944.1 371.3,949.6 374,949.6 374,952.3 376.8,952.3 376.8,955.1 379.5,955.1 379.5,957.8 382.2,957.8 382.2,963.3 385,963.3 385,966 387.7,966 387.7,968.8 390.4,968.8 390.4,971.5 395.9,971.5 395.9,974.2 398.7,974.2 398.7,977 404.1,977 404.1,979.7 412.3,979.7 412.3,982.4 417.8,982.4 417.8,985.2 426,985.2 426,987.9 437,987.9 437,990.6 447.9,990.6 447.9,993.4 467.1,993.4 467.1,996.1 475.3,996.1 475.3,998.9 483.5,998.9 483.5,1001.6 532.7,1001.6 532.7,1004.3 540.9,1004.3 540.9,1007.1 549.1,1007.1 549.1,1009.8 595.6,1009.8 595.6,1012.5 603.8,1012.5 603.8,1015.3 617.5,1015.3 617.5,1018 623,1018 623,1015.3 642.2,1015.3 642.2,1012.5 655.8,1012.5 655.8,1015.3 666.8,1015.3 666.8,1018 699.6,1018 699.6,1015.3 721.5,1015.3 721.5,1018 732.4,1018 732.4,1020.7 757.1,1020.7 757.1,1018 773.5,1018 773.5,1015.3 778.9,1015.3 778.9,1018 792.6,1018 792.6,1020.7 825.5,1020.7 825.5,1018 850.1,1018 850.1,1020.7 861,1020.7 861,1023.5 882.9,1023.5 882.9,1020.7 915.7,1020.7 915.7,1023.5 956.8,1023.5 956.8,1020.7 970.5,1020.7 970.5,1023.5 986.9,1023.5 986.9,1026.2 1006,1026.2 1006,1023.5 1044.3,1023.5 1044.3,1026.2 1077.2,1026.2 1077.2,1023.5 1104.5,1023.5 1104.5,1026.2 1145.6,1026.2 1145.6,1023.5 1159.2,1023.5 1159.2,1026.2 1241.3,1026.2 1241.3,1029 1257.7,1029 1257.7,1026.2 1298.8,1026.2 1298.8,1029 1323.4,1029 1323.4,1026.2 1359,1026.2 1359,1029 1389.1,1029 1389.1,1026.2 1419.2,1026.2 1419.2,1029 1454.7,1029 1454.7,1026.2 1479.3,1026.2 1479.3,1029 1520.4,1029 1520.4,1026.2 1542.3,1026.2 1542.3,1029 1588.8,1029 1588.8,1026.2 1599.7,1026.2 1599.7,1029 1654.4,1029 1654.4,1026.2 1659.9,1026.2 1659.9,1029 1692.8,1029 1679.3,1015.5 1646.4,1015.5 1646.4,1012.7 1640.9,1012.7 1640.9,1015.5 1586.2,1015.5 1586.2,1012.7 1575.3,1012.7 1575.3,1015.5 1528.8,1015.5 1528.8,1012.7 1506.9,1012.7 1506.9,1015.5 1465.8,1015.5 1465.8,1012.7 1441.2,1012.7 1441.2,1015.5 1405.7,1015.5 1405.7,1012.7 1375.6,1012.7 1375.6,1015.5 1345.5,1015.5 1345.5,1012.7 1309.9,1012.7 1309.9,1015.5 1285.3,1015.5 1285.3,1012.7 1244.2,1012.7 1244.2,1015.5 1227.8,1015.5 1227.8,1012.7 1145.7,1012.7 1145.7,1010 1132.1,1010 1132.1,1012.7 1091,1012.7 1091,1010 1063.7,1010 1063.7,1012.7 1030.8,1012.7 1030.8,1010 992.5,1010 992.5,1012.7 973.4,1012.7 973.4,1010 957,1010 957,1007.2 943.3,1007.2 943.3,1010 902.2,1010 902.2,1007.2 869.4,1007.2 869.4,1010 847.5,1010 847.5,1007.2 836.6,1007.2 836.6,1004.5 812,1004.5 812,1007.2 779.1,1007.2 779.1,1004.5 765.4,1004.5 765.4,1001.8 760,1001.8 760,1004.5 743.6,1004.5 743.6,1007.2 718.9,1007.2 718.9,1004.5 708,1004.5 708,1001.8 686.1,1001.8 686.1,1004.5 653.3,1004.5 653.3,1001.8 642.3,1001.8 642.3,999 628.7,999 628.7,1001.8 609.5,1001.8 609.5,1004.5 604,1004.5 604,1001.8 590.3,1001.8 590.3,999 582.1,999 582.1,996.3 535.6,996.3 535.6,993.6 527.4,993.6 527.4,990.8 519.2,990.8 519.2,988.1 470,988.1 470,985.4 461.8,985.4 461.8,982.6 453.6,982.6 453.6,979.9 434.4,979.9 434.4,977.1 423.5,977.1 423.5,974.4 412.5,974.4 412.5,971.7 404.3,971.7 404.3,968.9 398.8,968.9 398.8,966.2 390.6,966.2 390.6,963.5 385.2,963.5 385.2,960.7 382.4,960.7 382.4,958 376.9,958 376.9,955.3 374.2,955.3 374.2,952.5 371.5,952.5 371.5,949.8 368.7,949.8 368.7,944.3 366,944.3 366,941.6 363.3,941.6 363.3,938.8 360.5,938.8 360.5,936.1 357.8,936.1 357.8,930.6 355.1,930.6 355.1,927.9 352.3,927.9 352.3,925.2 349.6,925.2 349.6,919.7 346.9,919.7"/><polygon points="360.4,919.7 363.1,919.7 363.1,925.2 365.8,925.2 365.8,927.9 368.6,927.9 368.6,930.6 371.3,930.6 371.3,936.1 374,936.1 374,938.8 376.8,938.8 376.8,941.6 379.5,941.6 379.5,944.3 382.2,944.3 382.2,949.8 385,949.8 385,952.5 387.7,952.5 387.7,955.3 390.4,955.3 390.4,958 395.9,958 395.9,960.7 398.7,960.7 398.7,963.5 404.1,963.5 404.1,966.2 412.3,966.2 412.3,968.9 417.8,968.9 417.8,971.7 426,971.7 426,974.4 437,974.4 437,977.1 447.9,977.1 447.9,979.9 467.1,979.9 467.1,982.6 475.3,982.6 475.3,985.4 483.5,985.4 483.5,988.1 532.7,988.1 532.7,990.8 540.9,990.8 540.9,993.6 549.1,993.6 549.1,996.3 595.6,996.3 595.6,999 603.8,999 603.8,1001.8 617.5,1001.8 617.5,1004.5 623,1004.5 623,1001.8 642.2,1001.8 642.2,999 655.8,999 655.8,1001.8 666.8,1001.8 666.8,1004.5 699.6,1004.5 699.6,1001.8 721.5,1001.8 721.5,1004.5 732.4,1004.5 732.4,1007.2 757.1,1007.2 757.1,1004.5 773.5,1004.5 773.5,1001.8 778.9,1001.8 778.9,1004.5 792.6,1004.5 792.6,1007.2 825.5,1007.2 825.5,1004.5 850.1,1004.5 850.1,1007.2 861,1007.2 861,1010 882.9,1010 882.9,1007.2 915.7,1007.2 915.7,1010 956.8,1010 956.8,1007.2 970.5,1007.2 970.5,1010 986.9,1010 986.9,1012.7 1006,1012.7 1006,1010 1044.3,1010 1044.3,1012.7 1077.2,1012.7 1077.2,1010 1104.5,1010 1104.5,1012.7 1145.6,1012.7 1145.6,1010 1159.2,1010 1159.2,1012.7 1241.3,1012.7 1241.3,1015.5 1257.7,1015.5 1257.7,1012.7 1298.8,1012.7 1298.8,1015.5 1323.4,1015.5 1323.4,1012.7 1359,1012.7 1359,1015.5 1389.1,1015.5 1389.1,1012.7 1419.2,1012.7 1419.2,1015.5 1454.7,1015.5 1454.7,1012.7 1479.3,1012.7 1479.3,1015.5 1520.4,1015.5 1520.4,1012.7 1542.3,1012.7 1542.3,1015.5 1588.8,1015.5 1588.8,1012.7 1599.7,1012.7 1599.7,1015.5 1654.4,1015.5 1654.4,1012.7 1659.9,1012.7 1659.9,1015.5 1692.8,1015.5 1679.3,1029 1646.4,1029 1646.4,1026.2 1640.9,1026.2 1640.9,1029 1586.2,1029 1586.2,1026.2 1575.3,1026.2 1575.3,1029 1528.8,1029 1528.8,1026.2 1506.9,1026.2 1506.9,1029 1465.8,1029 1465.8,1026.2 1441.2,1026.2 1441.2,1029 1405.7,1029 1405.7,1026.2 1375.6,1026.2 1375.6,1029 1345.5,1029 1345.5,1026.2 1309.9,1026.2 1309.9,1029 1285.3,1029 1285.3,1026.2 1244.2,1026.2 1244.2,1029 1227.8,1029 1227.8,1026.2 1145.7,1026.2 1145.7,1023.5 1132.1,1023.5 1132.1,1026.2 1091,1026.2 1091,1023.5 1063.7,1023.5 1063.7,1026.2 1030.8,1026.2 1030.8,1023.5 992.5,1023.5 992.5,1026.2 973.4,1026.2 973.4,1023.5 957,1023.5 957,1020.7 943.3,1020.7 943.3,1023.5 902.2,1023.5 902.2,1020.7 869.4,1020.7 869.4,1023.5 847.5,1023.5 847.5,1020.7 836.6,1020.7 836.6,1018 812,1018 812,1020.7 779.1,1020.7 779.1,1018 765.4,1018 765.4,1015.3 760,1015.3 760,1018 743.6,1018 743.6,1020.7 718.9,1020.7 718.9,1018 708,1018 708,1015.3 686.1,1015.3 686.1,1018 653.3,1018 653.3,1015.3 642.3,1015.3 642.3,1012.5 628.7,1012.5 628.7,1015.3 609.5,1015.3 609.5,1018 604,1018 604,1015.3 590.3,1015.3 590.3,1012.5 582.1,1012.5 582.1,1009.8 535.6,1009.8 535.6,1007.1 527.4,1007.1 527.4,1004.3 519.2,1004.3 519.2,1001.6 470,1001.6 470,998.9 461.8,998.9 461.8,996.1 453.6,996.1 453.6,993.4 434.4,993.4 434.4,990.6 423.5,990.6 423.5,987.9 412.5,987.9 412.5,985.2 404.3,985.2 404.3,982.4 398.8,982.4 398.8,979.7 390.6,979.7 390.6,977 385.2,977 385.2,974.2 382.4,974.2 382.4,971.5 376.9,971.5 376.9,968.8 374.2,968.8 374.2,966 371.5,966 371.5,963.3 368.7,963.3 368.7,957.8 366,957.8 366,955.1 363.3,955.1 363.3,952.3 360.5,952.3 360.5,949.6 357.8,949.6 357.8,944.1 355.1,944.1 355.1,941.4 352.3,941.4 352.3,938.7 349.6,938.7 349.6,933.2 346.9,933.2"/></g>
<g fill="#ff0000" stroke="#ff0000" stroke-width="3" stroke-linejoin="round"><path d="M396.8 795.5V850.9" fill="none"/><path d="M1685.4 995.9H1701.8" fill="none"/><polygon points="329.3,749 353.9,749 353.9,751.7 362.1,751.7 362.1,754.5 367.6,754.5 367.6,757.2 375.8,757.2 375.8,759.9 381.2,759.9 381.2,762.7 389.4,762.7 389.4,765.4 394.9,765.4 394.9,768.2 397.7,768.2 397.7,770.9 400.4,770.9 400.4,773.6 403.1,773.6 403.1,776.4 405.9,776.4 405.9,784.6 408.6,784.6 408.6,795.5 385,795.5 385,784.6 382.3,784.6 382.3,776.4 379.5,776.4 379.5,773.6 376.8,773.6 376.8,770.9 374.1,770.9 374.1,768.2 371.3,768.2 371.3,765.4 365.8,765.4 365.8,762.7 357.6,762.7 357.6,759.9 352.2,759.9 352.2,757.2 344,757.2 344,754.5 338.5,754.5 338.5,751.7 330.3,751.7 330.3,749 305.7,749"/><polygon points="317.5,760.8 342.1,760.8 342.1,763.5 350.3,763.5 350.3,766.3 355.8,766.3 355.8,769 364,769 364,771.7 369.4,771.7 369.4,774.5 377.6,774.5 377.6,777.2 383.1,777.2 383.1,780 385.9,780 385.9,782.7 388.6,782.7 388.6,785.4 391.3,785.4 391.3,788.2 394.1,788.2 394.1,796.4 396.8,796.4 396.8,807.3 396.8,783.7 396.8,772.8 394.1,772.8 394.1,764.6 391.3,764.6 391.3,761.8 388.6,761.8 388.6,759.1 385.9,759.1 385.9,756.4 383.1,756.4 383.1,753.6 377.6,753.6 377.6,750.9 369.4,750.9 369.4,748.1 364,748.1 364,745.4 355.8,745.4 355.8,742.7 350.3,742.7 350.3,739.9 342.1,739.9 342.1,737.2 317.5,737.2"/><polygon points="324.2,755.8 348.8,755.8 348.8,758.5 357,758.5 357,761.2 362.5,761.2 362.5,764 370.7,764 370.7,766.7 376.2,766.7 376.2,769.4 384.4,769.4 384.4,772.2 389.9,772.2 389.9,774.9 392.6,774.9 392.6,777.6 395.3,777.6 395.3,780.4 398.1,780.4 398.1,783.1 400.8,783.1 400.8,791.3 403.6,791.3 403.6,802.3 390.1,788.8 390.1,777.8 387.3,777.8 387.3,769.6 384.6,769.6 384.6,766.9 381.8,766.9 381.8,764.1 379.1,764.1 379.1,761.4 376.4,761.4 376.4,758.7 370.9,758.7 370.9,755.9 362.7,755.9 362.7,753.2 357.2,753.2 357.2,750.5 349,750.5 349,747.7 343.5,747.7 343.5,745 335.3,745 335.3,742.2 310.7,742.2"/><polygon points="324.2,742.2 348.8,742.2 348.8,745 357,745 357,747.7 362.5,747.7 362.5,750.5 370.7,750.5 370.7,753.2 376.2,753.2 376.2,755.9 384.4,755.9 384.4,758.7 389.9,758.7 389.9,761.4 392.6,761.4 392.6,764.1 395.3,764.1 395.3,766.9 398.1,766.9 398.1,769.6 400.8,769.6 400.8,777.8 403.6,777.8 403.6,788.8 390.1,802.3 390.1,791.3 387.3,791.3 387.3,783.1 384.6,783.1 384.6,780.4 381.8,780.4 381.8,777.6 379.1,777.6 379.1,774.9 376.4,774.9 376.4,772.2 370.9,772.2 370.9,769.4 362.7,769.4 362.7,766.7 357.2,766.7 357.2,764 349,764 349,761.2 343.5,761.2 343.5,758.5 335.3,758.5 335.3,755.8 310.7,755.8"/><polygon points="408.6,850.9 408.6,853.6 411.3,853.6 411.3,856.4 414.1,856.4 414.1,859.1 416.8,859.1 416.8,861.8 419.5,861.8 419.5,867.3 422.3,867.3 422.3,870 425,870 425,872.8 427.8,872.8 427.8,875.5 430.5,875.5 430.5,878.3 433.2,878.3 433.2,881 436,881 436,883.7 441.4,883.7 441.4,886.5 444.2,886.5 444.2,889.2 446.9,889.2 446.9,891.9 449.6,891.9 449.6,894.7 455.1,894.7 455.1,897.4 457.8,897.4 457.8,900.1 463.3,900.1 463.3,902.9 468.8,902.9 468.8,905.6 471.5,905.6 471.5,908.3 477,908.3 477,911.1 482.5,911.1 482.5,913.8 490.7,913.8 490.7,916.6 496.2,916.6 496.2,919.3 504.4,919.3 504.4,922 512.6,922 512.6,924.8 523.5,924.8 523.5,927.5 531.7,927.5 531.7,930.2 539.9,930.2 539.9,933 550.9,933 550.9,935.7 561.8,935.7 561.8,938.4 572.8,938.4 572.8,941.2 583.7,941.2 583.7,943.9 597.4,943.9 597.4,946.7 611.1,946.7 611.1,949.4 627.5,949.4 627.5,952.1 643.9,952.1 643.9,954.9 665.8,954.9 665.8,957.6 684.9,957.6 684.9,960.3 706.8,960.3 706.8,963.1 736.9,963.1 736.9,965.8 775.2,965.8 775.2,968.5 816.3,968.5 816.3,971.3 854.6,971.3 854.6,974 892.9,974 892.9,976.7 939.4,976.7 939.4,979.5 1002.3,979.5 1002.3,982.2 1076.2,982.2 1076.2,985 1163.7,985 1163.7,987.7 1273.2,987.7 1273.2,990.4 1412.7,990.4 1412.7,993.2 1582.3,993.2 1582.3,995.9 1697.2,995.9 1673.6,995.9 1558.7,995.9 1558.7,993.2 1389.1,993.2 1389.1,990.4 1249.6,990.4 1249.6,987.7 1140.1,987.7 1140.1,985 1052.6,985 1052.6,982.2 978.7,982.2 978.7,979.5 915.8,979.5 915.8,976.7 869.3,976.7 869.3,974 831,974 831,971.3 792.7,971.3 792.7,968.5 751.6,968.5 751.6,965.8 713.3,965.8 713.3,963.1 683.2,963.1 683.2,960.3 661.3,960.3 661.3,957.6 642.2,957.6 642.2,954.9 620.3,954.9 620.3,952.1 603.9,952.1 603.9,949.4 587.5,949.4 587.5,946.7 573.8,946.7 573.8,943.9 560.1,943.9 560.1,941.2 549.2,941.2 549.2,938.4 538.2,938.4 538.2,935.7 527.3,935.7 527.3,933 516.3,933 516.3,930.2 508.1,930.2 508.1,927.5 499.9,927.5 499.9,924.8 489,924.8 489,922 480.8,922 480.8,919.3 472.6,919.3 472.6,916.6 467.1,916.6 467.1,913.8 458.9,913.8 458.9,911.1 453.4,911.1 453.4,908.3 447.9,908.3 447.9,905.6 445.2,905.6 445.2,902.9 439.7,902.9 439.7,900.1 434.2,900.1 434.2,897.4 431.5,897.4 431.5,894.7 426,894.7 426,891.9 423.3,891.9 423.3,889.2 420.6,889.2 420.6,886.5 417.8,886.5 417.8,883.7 412.4,883.7 412.4,881 409.6,881 409.6,878.3 406.9,878.3 406.9,875.5 404.2,875.5 404.2,872.8 401.4,872.8 401.4,870 398.7,870 398.7,867.3 395.9,867.3 395.9,861.8 393.2,861.8 393.2,859.1 390.5,859.1 390.5,856.4 387.7,856.4 387.7,853.6 385,853.6 385,850.9"/><polygon points="396.8,862.7 396.8,865.4 399.5,865.4 399.5,868.2 402.3,868.2 402.3,870.9 405,870.9 405,873.6 407.7,873.6 407.7,879.1 410.5,879.1 410.5,881.8 413.2,881.8 413.2,884.6 416,884.6 416,887.3 418.7,887.3 418.7,890.1 421.4,890.1 421.4,892.8 424.2,892.8 424.2,895.5 429.6,895.5 429.6,898.3 432.4,898.3 432.4,901 435.1,901 435.1,903.7 437.8,903.7 437.8,906.5 443.3,906.5 443.3,909.2 446,909.2 446,911.9 451.5,911.9 451.5,914.7 457,914.7 457,917.4 459.7,917.4 459.7,920.1 465.2,920.1 465.2,922.9 470.7,922.9 470.7,925.6 478.9,925.6 478.9,928.4 484.4,928.4 484.4,931.1 492.6,931.1 492.6,933.8 500.8,933.8 500.8,936.6 511.7,936.6 511.7,939.3 519.9,939.3 519.9,942 528.1,942 528.1,944.8 539.1,944.8 539.1,947.5 550,947.5 550,950.2 561,950.2 561,953 571.9,953 571.9,955.7 585.6,955.7 585.6,958.5 599.3,958.5 599.3,961.2 615.7,961.2 615.7,963.9 632.1,963.9 632.1,966.7 654,966.7 654,969.4 673.1,969.4 673.1,972.1 695,972.1 695,974.9 725.1,974.9 725.1,977.6 763.4,977.6 763.4,980.3 804.5,980.3 804.5,983.1 842.8,983.1 842.8,985.8 881.1,985.8 881.1,988.5 927.6,988.5 927.6,991.3 990.5,991.3 990.5,994 1064.4,994 1064.4,996.8 1151.9,996.8 1151.9,999.5 1261.4,999.5 1261.4,1002.2 1400.9,1002.2 1400.9,1005 1570.5,1005 1570.5,1007.7 1685.4,1007.7 1685.4,984.1 1570.5,984.1 1570.5,981.4 1400.9,981.4 1400.9,978.6 1261.4,978.6 1261.4,975.9 1151.9,975.9 1151.9,973.2 1064.4,973.2 1064.4,970.4 990.5,970.4 990.5,967.7 927.6,967.7 927.6,964.9 881.1,964.9 881.1,962.2 842.8,962.2 842.8,959.5 804.5,959.5 804.5,956.7 763.4,956.7 763.4,954 725.1,954 725.1,951.3 695,951.3 695,948.5 673.1,948.5 673.1,945.8 654,945.8 654,943.1 632.1,943.1 632.1,940.3 615.7,940.3 615.7,937.6 599.3,937.6 599.3,934.9 585.6,934.9 585.6,932.1 571.9,932.1 571.9,929.4 561,929.4 561,926.6 550,926.6 550,923.9 539.1,923.9 539.1,921.2 528.1,921.2 528.1,918.4 519.9,918.4 519.9,915.7 511.7,915.7 511.7,913 500.8,913 500.8,910.2 492.6,910.2 492.6,907.5 484.4,907.5 484.4,904.8 478.9,904.8 478.9,902 470.7,902 470.7,899.3 465.2,899.3 465.2,896.5 459.7,896.5 459.7,893.8 457,893.8 457,891.1 451.5,891.1 451.5,888.3 446,888.3 446,885.6 443.3,885.6 443.3,882.9 437.8,882.9 437.8,880.1 435.1,880.1 435.1,877.4 432.4,877.4 432.4,874.7 429.6,874.7 429.6,871.9 424.2,871.9 424.2,869.2 421.4,869.2 421.4,866.5 418.7,866.5 418.7,863.7 416,863.7 416,861 413.2,861 413.2,858.2 410.5,858.2 410.5,855.5 407.7,855.5 407.7,850 405,850 405,847.3 402.3,847.3 402.3,844.6 399.5,844.6 399.5,841.8 396.8,841.8 396.8,839.1"/><polygon points="403.6,857.6 403.6,860.4 406.3,860.4 406.3,863.1 409,863.1 409,865.9 411.8,865.9 411.8,868.6 414.5,868.6 414.5,874.1 417.2,874.1 417.2,876.8 420,876.8 420,879.5 422.7,879.5 422.7,882.3 425.4,882.3 425.4,885 428.2,885 428.2,887.7 430.9,887.7 430.9,890.5 436.4,890.5 436.4,893.2 439.1,893.2 439.1,895.9 441.9,895.9 441.9,898.7 444.6,898.7 444.6,901.4 450.1,901.4 450.1,904.2 452.8,904.2 452.8,906.9 458.3,906.9 458.3,909.6 463.7,909.6 463.7,912.4 466.5,912.4 466.5,915.1 471.9,915.1 471.9,917.8 477.4,917.8 477.4,920.6 485.6,920.6 485.6,923.3 491.1,923.3 491.1,926 499.3,926 499.3,928.8 507.5,928.8 507.5,931.5 518.5,931.5 518.5,934.3 526.7,934.3 526.7,937 534.9,937 534.9,939.7 545.8,939.7 545.8,942.5 556.8,942.5 556.8,945.2 567.7,945.2 567.7,947.9 578.6,947.9 578.6,950.7 592.3,950.7 592.3,953.4 606,953.4 606,956.1 622.4,956.1 622.4,958.9 638.8,958.9 638.8,961.6 660.7,961.6 660.7,964.3 679.9,964.3 679.9,967.1 701.8,967.1 701.8,969.8 731.9,969.8 731.9,972.6 770.2,972.6 770.2,975.3 811.2,975.3 811.2,978 849.5,978 849.5,980.8 887.8,980.8 887.8,983.5 934.3,983.5 934.3,986.2 997.2,986.2 997.2,989 1071.1,989 1071.1,991.7 1158.7,991.7 1158.7,994.4 1268.1,994.4 1268.1,997.2 1407.6,997.2 1407.6,999.9 1577.3,999.9 1577.3,1002.6 1692.2,1002.6 1678.7,989.1 1563.8,989.1 1563.8,986.4 1394.1,986.4 1394.1,983.7 1254.6,983.7 1254.6,980.9 1145.2,980.9 1145.2,978.2 1057.6,978.2 1057.6,975.5 983.7,975.5 983.7,972.7 920.8,972.7 920.8,970 874.3,970 874.3,967.3 836,967.3 836,964.5 797.7,964.5 797.7,961.8 756.7,961.8 756.7,959.1 718.4,959.1 718.4,956.3 688.3,956.3 688.3,953.6 666.4,953.6 666.4,950.8 647.2,950.8 647.2,948.1 625.3,948.1 625.3,945.4 608.9,945.4 608.9,942.6 592.5,942.6 592.5,939.9 578.8,939.9 578.8,937.2 565.1,937.2 565.1,934.4 554.2,934.4 554.2,931.7 543.3,931.7 543.3,929 532.3,929 532.3,926.2 521.4,926.2 521.4,923.5 513.2,923.5 513.2,920.8 505,920.8 505,918 494,918 494,915.3 485.8,915.3 485.8,912.5 477.6,912.5 477.6,909.8 472.1,909.8 472.1,907.1 463.9,907.1 463.9,904.3 458.4,904.3 458.4,901.6 453,901.6 453,898.9 450.2,898.9 450.2,896.1 444.8,896.1 444.8,893.4 439.3,893.4 439.3,890.7 436.6,890.7 436.6,887.9 431.1,887.9 431.1,885.2 428.4,885.2 428.4,882.4 425.6,882.4 425.6,879.7 422.9,879.7 422.9,877 417.4,877 417.4,874.2 414.7,874.2 414.7,871.5 411.9,871.5 411.9,868.8 409.2,868.8 409.2,866 406.5,866 406.5,863.3 403.7,863.3 403.7,860.6 401,860.6 401,855.1 398.3,855.1 398.3,852.4 395.5,852.4 395.5,849.6 392.8,849.6 392.8,846.9 390.1,846.9 390.1,844.1"/><polygon points="403.6,844.1 403.6,846.9 406.3,846.9 406.3,849.6 409,849.6 409,852.4 411.8,852.4 411.8,855.1 414.5,855.1 414.5,860.6 417.2,860.6 417.2,863.3 420,863.3 420,866 422.7,866 422.7,868.8 425.4,868.8 425.4,871.5 428.2,871.5 428.2,874.2 430.9,874.2 430.9,877 436.4,877 436.4,879.7 439.1,879.7 439.1,882.4 441.9,882.4 441.9,885.2 444.6,885.2 444.6,887.9 450.1,887.9 450.1,890.7 452.8,890.7 452.8,893.4 458.3,893.4 458.3,896.1 463.7,896.1 463.7,898.9 466.5,898.9 466.5,901.6 471.9,901.6 471.9,904.3 477.4,904.3 477.4,907.1 485.6,907.1 485.6,909.8 491.1,909.8 491.1,912.5 499.3,912.5 499.3,915.3 507.5,915.3 507.5,918 518.5,918 518.5,920.8 526.7,920.8 526.7,923.5 534.9,923.5 534.9,926.2 545.8,926.2 545.8,929 556.8,929 556.8,931.7 567.7,931.7 567.7,934.4 578.6,934.4 578.6,937.2 592.3,937.2 592.3,939.9 606,939.9 606,942.6 622.4,942.6 622.4,945.4 638.8,945.4 638.8,948.1 660.7,948.1 660.7,950.8 679.9,950.8 679.9,953.6 701.8,953.6 701.8,956.3 731.9,956.3 731.9,959.1 770.2,959.1 770.2,961.8 811.2,961.8 811.2,964.5 849.5,964.5 849.5,967.3 887.8,967.3 887.8,970 934.3,970 934.3,972.7 997.2,972.7 997.2,975.5 1071.1,975.5 1071.1,978.2 1158.7,978.2 1158.7,980.9 1268.1,980.9 1268.1,983.7 1407.6,983.7 1407.6,986.4 1577.3,986.4 1577.3,989.1 1692.2,989.1 1678.7,1002.6 1563.8,1002.6 1563.8,999.9 1394.1,999.9 1394.1,997.2 1254.6,997.2 1254.6,994.4 1145.2,994.4 1145.2,991.7 1057.6,991.7 1057.6,989 983.7,989 983.7,986.2 920.8,986.2 920.8,983.5 874.3,983.5 874.3,980.8 836,980.8 836,978 797.7,978 797.7,975.3 756.7,975.3 756.7,972.6 718.4,972.6 718.4,969.8 688.3,969.8 688.3,967.1 666.4,967.1 666.4,964.3 647.2,964.3 647.2,961.6 625.3,961.6 625.3,958.9 608.9,958.9 608.9,956.1 592.5,956.1 592.5,953.4 578.8,953.4 578.8,950.7 565.1,950.7 565.1,947.9 554.2,947.9 554.2,945.2 543.3,945.2 543.3,942.5 532.3,942.5 532.3,939.7 521.4,939.7 521.4,937 513.2,937 513.2,934.3 505,934.3 505,931.5 494,931.5 494,928.8 485.8,928.8 485.8,926 477.6,926 477.6,923.3 472.1,923.3 472.1,920.6 463.9,920.6 463.9,917.8 458.4,917.8 458.4,915.1 453,915.1 453,912.4 450.2,912.4 450.2,909.6 444.8,909.6 444.8,906.9 439.3,906.9 439.3,904.2 436.6,904.2 436.6,901.4 431.1,901.4 431.1,898.7 428.4,898.7 428.4,895.9 425.6,895.9 425.6,893.2 422.9,893.2 422.9,890.5 417.4,890.5 417.4,887.7 414.7,887.7 414.7,885 411.9,885 411.9,882.3 409.2,882.3 409.2,879.5 406.5,879.5 406.5,876.8 403.7,876.8 403.7,874.1 401,874.1 401,868.6 398.3,868.6 398.3,865.9 395.5,865.9 395.5,863.1 392.8,863.1 392.8,860.4 390.1,860.4 390.1,857.6"/></g>
<g fill="#fff" fill-opacity="0.8"><rect x="373.7" y="160.1" width="2.6" height="6"/><rect x="373.7" y="181.7" width="2.6" height="2.8"/><rect x="368.5" y="185.8" width="2.4" height="3.4"/><rect x="436.7" y="168.5" width="2.6" height="6"/><rect x="436.7" y="190.1" width="2.6" height="2.8"/><rect x="431.5" y="194.2" width="2.4" height="3.4"/><rect x="499.7" y="173.8" width="2.6" height="6"/><rect x="499.7" y="195.4" width="2.6" height="2.8"/><rect x="494.5" y="199.5" width="2.4" height="3.4"/><rect x="562.7" y="178.9" width="2.6" height="6"/><rect x="562.7" y="200.5" width="2.6" height="2.8"/><rect x="557.5" y="204.6" width="2.4" height="3.4"/><rect x="625.7" y="184.1" width="2.6" height="6"/><rect x="625.7" y="205.7" width="2.6" height="2.8"/><rect x="620.5" y="209.8" width="2.4" height="3.4"/><rect x="688.7" y="190.5" width="2.6" height="6"/><rect x="688.7" y="212.1" width="2.6" height="2.8"/><rect x="683.5" y="216.2" width="2.4" height="3.4"/><rect x="751.7" y="198.8" width="2.6" height="6"/><rect x="751.7" y="220.4" width="2.6" height="2.8"/><rect x="746.5" y="224.5" width="2.4" height="3.4"/><rect x="814.7" y="212.2" width="2.6" height="6"/><rect x="814.7" y="233.8" width="2.6" height="2.8"/><rect x="809.5" y="237.9" width="2.4" height="3.4"/><rect x="877.7" y="232" width="2.6" height="6"/><rect x="877.7" y="253.6" width="2.6" height="2.8"/><rect x="872.5" y="257.7" width="2.4" height="3.4"/><rect x="940.7" y="472.9" width="2.6" height="6"/><rect x="940.7" y="494.5" width="2.6" height="2.8"/><rect x="935.5" y="498.6" width="2.4" height="3.4"/><rect x="1003.7" y="501.6" width="2.6" height="6"/><rect x="1003.7" y="523.2" width="2.6" height="2.8"/><rect x="998.5" y="527.3" width="2.4" height="3.4"/><rect x="1066.7" y="527.5" width="2.6" height="6"/><rect x="1066.7" y="549.1" width="2.6" height="2.8"/><rect x="1061.5" y="553.2" width="2.4" height="3.4"/><rect x="1129.7" y="547.7" width="2.6" height="6"/><rect x="1129.7" y="569.3" width="2.6" height="2.8"/><rect x="1124.5" y="573.4" width="2.4" height="3.4"/><rect x="1192.7" y="567.6" width="2.6" height="6"/><rect x="1192.7" y="589.2" width="2.6" height="2.8"/><rect x="1187.5" y="593.3" width="2.4" height="3.4"/><rect x="1255.7" y="585.4" width="2.6" height="6"/><rect x="1255.7" y="607" width="2.6" height="2.8"/><rect x="1250.5" y="611.1" width="2.4" height="3.4"/><rect x="1318.7" y="600.1" width="2.6" height="6"/><rect x="1318.7" y="621.7" width="2.6" height="2.8"/><rect x="1313.5" y="625.8" width="2.4" height="3.4"/><rect x="1381.7" y="616.4" width="2.6" height="6"/><rect x="1381.7" y="638" width="2.6" height="2.8"/><rect x="1376.5" y="642.1" width="2.4" height="3.4"/><rect x="1444.7" y="627.3" width="2.6" height="6"/><rect x="1444.7" y="648.9" width="2.6" height="2.8"/><rect x="1439.5" y="653" width="2.4" height="3.4"/><rect x="1507.7" y="638.8" width="2.6" height="6"/><rect x="1507.7" y="660.4" width="2.6" height="2.8"/><rect x="1502.5" y="664.5" width="2.4" height="3.4"/><rect x="1570.7" y="648.7" width="2.6" height="6"/><rect x="1570.7" y="670.3" width="2.6" height="2.8"/><rect x="1565.5" y="674.4" width="2.4" height="3.4"/><rect x="1633.7" y="659.2" width="2.6" height="6"/><rect x="1633.7" y="680.8" width="2.6" height="2.8"/><rect x="1628.5" y="684.9" width="2.4" height="3.4"/><rect x="499.7" y="908.5" width="2.6" height="6"/><rect x="499.7" y="930.1" width="2.6" height="2.8"/><rect x="494.5" y="934.2" width="2.4" height="3.4"/><rect x="562.7" y="926" width="2.6" height="6"/><rect x="562.7" y="947.6" width="2.6" height="2.8"/><rect x="557.5" y="951.7" width="2.4" height="3.4"/><rect x="625.7" y="937.8" width="2.6" height="6"/><rect x="625.7" y="959.4" width="2.6" height="2.8"/><rect x="620.5" y="963.5" width="2.4" height="3.4"/><rect x="688.7" y="946.2" width="2.6" height="6"/><rect x="688.7" y="967.8" width="2.6" height="2.8"/><rect x="683.5" y="971.9" width="2.4" height="3.4"/><rect x="751.7" y="951.7" width="2.6" height="6"/><rect x="751.7" y="973.3" width="2.6" height="2.8"/><rect x="746.5" y="977.4" width="2.4" height="3.4"/><rect x="814.7" y="956" width="2.6" height="6"/><rect x="814.7" y="977.6" width="2.6" height="2.8"/><rect x="809.5" y="981.7" width="2.4" height="3.4"/><rect x="877.7" y="960.5" width="2.6" height="6"/><rect x="877.7" y="982.1" width="2.6" height="2.8"/><rect x="872.5" y="986.2" width="2.4" height="3.4"/><rect x="940.7" y="964" width="2.6" height="6"/><rect x="940.7" y="985.6" width="2.6" height="2.8"/><rect x="935.5" y="989.7" width="2.4" height="3.4"/><rect x="1003.7" y="966.6" width="2.6" height="6"/><rect x="1003.7" y="988.2" width="2.6" height="2.8"/><rect x="998.5" y="992.3" width="2.4" height="3.4"/><rect x="1066.7" y="968.9" width="2.6" height="6"/><rect x="1066.7" y="990.5" width="2.6" height="2.8"/><rect x="1061.5" y="994.6" width="2.4" height="3.4"/><rect x="1129.7" y="970.9" width="2.6" height="6"/><rect x="1129.7" y="992.5" width="2.6" height="2.8"/><rect x="1124.5" y="996.6" width="2.4" height="3.4"/><rect x="1192.7" y="972.7" width="2.6" height="6"/><rect x="1192.7" y="994.3" width="2.6" height="2.8"/><rect x="1187.5" y="998.4" width="2.4" height="3.4"/><rect x="1255.7" y="974.2" width="2.6" height="6"/><rect x="1255.7" y="995.8" width="2.6" height="2.8"/><rect x="1250.5" y="999.9" width="2.4" height="3.4"/><rect x="1318.7" y="975.5" width="2.6" height="6"/><rect x="1318.7" y="997.1" width="2.6" height="2.8"/><rect x="1313.5" y="1001.2" width="2.4" height="3.4"/><rect x="1381.7" y="976.7" width="2.6" height="6"/><rect x="1381.7" y="998.3" width="2.6" height="2.8"/><rect x="1376.5" y="1002.4" width="2.4" height="3.4"/><rect x="1444.7" y="977.8" width="2.6" height="6"/><rect x="1444.7" y="999.4" width="2.6" height="2.8"/><rect x="1439.5" y="1003.5" width="2.4" height="3.4"/><rect x="1507.7" y="978.8" width="2.6" height="6"/><rect x="1507.7" y="1000.4" width="2.6" height="2.8"/><rect x="1502.5" y="1004.5" width="2.4" height="3.4"/><rect x="1570.7" y="979.8" width="2.6" height="6"/><rect x="1570.7" y="1001.4" width="2.6" height="2.8"/><rect x="1565.5" y="1005.5" width="2.4" height="3.4"/><rect x="1633.7" y="980.6" width="2.6" height="6"/><rect x="1633.7" y="1002.2" width="2.6" height="2.8"/><rect x="1628.5" y="1006.3" width="2.4" height="3.4"/><rect x="499.7" y="980.4" width="2.6" height="6"/><rect x="499.7" y="1002" width="2.6" height="2.8"/><rect x="494.5" y="1006.1" width="2.4" height="3.4"/><rect x="562.7" y="988.1" width="2.6" height="6"/><rect x="562.7" y="1009.7" width="2.6" height="2.8"/><rect x="557.5" y="1013.8" width="2.4" height="3.4"/><rect x="625.7" y="993.6" width="2.6" height="6"/><rect x="625.7" y="1015.2" width="2.6" height="2.8"/><rect x="620.5" y="1019.3" width="2.4" height="3.4"/><rect x="688.7" y="995.8" width="2.6" height="6"/><rect x="688.7" y="1017.4" width="2.6" height="2.8"/><rect x="683.5" y="1021.5" width="2.4" height="3.4"/><rect x="751.7" y="997.2" width="2.6" height="6"/><rect x="751.7" y="1018.8" width="2.6" height="2.8"/><rect x="746.5" y="1022.9" width="2.4" height="3.4"/><rect x="814.7" y="998.3" width="2.6" height="6"/><rect x="814.7" y="1019.9" width="2.6" height="2.8"/><rect x="809.5" y="1024" width="2.4" height="3.4"/><rect x="877.7" y="1000.2" width="2.6" height="6"/><rect x="877.7" y="1021.8" width="2.6" height="2.8"/><rect x="872.5" y="1025.9" width="2.4" height="3.4"/><rect x="940.7" y="1001.6" width="2.6" height="6"/><rect x="940.7" y="1023.2" width="2.6" height="2.8"/><rect x="935.5" y="1027.3" width="2.4" height="3.4"/><rect x="1003.7" y="1002.6" width="2.6" height="6"/><rect x="1003.7" y="1024.2" width="2.6" height="2.8"/><rect x="998.5" y="1028.3" width="2.4" height="3.4"/><rect x="1066.7" y="1003.4" width="2.6" height="6"/><rect x="1066.7" y="1025" width="2.6" height="2.8"/><rect x="1061.5" y="1029.1" width="2.4" height="3.4"/><rect x="1129.7" y="1004.1" width="2.6" height="6"/><rect x="1129.7" y="1025.7" width="2.6" height="2.8"/><rect x="1124.5" y="1029.8" width="2.4" height="3.4"/><rect x="1192.7" y="1004.7" width="2.6" height="6"/><rect x="1192.7" y="1026.3" width="2.6" height="2.8"/><rect x="1187.5" y="1030.4" width="2.4" height="3.4"/><rect x="1255.7" y="1005.2" width="2.6" height="6"/><rect x="1255.7" y="1026.8" width="2.6" height="2.8"/><rect x="1250.5" y="1030.9" width="2.4" height="3.4"/><rect x="1318.7" y="1005.6" width="2.6" height="6"/><rect x="1318.7" y="1027.2" width="2.6" height="2.8"/><rect x="1313.5" y="1031.3" width="2.4" height="3.4"/><rect x="1381.7" y="1006" width="2.6" height="6"/><rect x="1381.7" y="1027.6" width="2.6" height="2.8"/><rect x="1376.5" y="1031.7" width="2.4" height="3.4"/><rect x="1444.7" y="1006.4" width="2.6" height="6"/><rect x="1444.7" y="1028" width="2.6" height="2.8"/><rect x="1439.5" y="1032.1" width="2.4" height="3.4"/><rect x="1507.7" y="1006.7" width="2.6" height="6"/><rect x="1507.7" y="1028.3" width="2.6" height="2.8"/><rect x="1502.5" y="1032.4" width="2.4" height="3.4"/><rect x="1570.7" y="1007" width="2.6" height="6"/><rect x="1570.7" y="1028.6" width="2.6" height="2.8"/><rect x="1565.5" y="1032.7" width="2.4" height="3.4"/><rect x="1633.7" y="1007.3" width="2.6" height="6"/><rect x="1633.7" y="1028.9" width="2.6" height="2.8"/><rect x="1628.5" y="1033" width="2.4" height="3.4"/></g>
<g filter="url(#soft)">
<rect x="1151.2" y="210.7" width="239.2" height="11.4" rx="2.5" fill="#00ff00"/>
<rect x="1151.2" y="296.2" width="239.2" height="11.2" rx="2.5" fill="#ff3300"/>
<rect x="1154.4" y="380" width="238.6" height="11.4" rx="2.5" fill="#0000ff"/>
<g font-family="'Liberation Sans',Arial,sans-serif" font-weight="bold" font-size="59.3" fill="#000" stroke="#000" stroke-width="0" stroke-linejoin="round">
<text transform="translate(1439.1 236.3) scale(0.9 1.065)" font-size="59.3" font-weight="normal" stroke-width="2.3" letter-spacing="5.4">600</text><text transform="translate(1537.9 236.3) scale(1 1.065)" font-size="59.3">mD</text>
<text transform="translate(1435.1 324.3) scale(0.9 1.065)" font-size="59.3" font-weight="normal" stroke-width="2.3" letter-spacing="5.4">1800</text><text transform="translate(1566.9 324.3) scale(1 1.065)" font-size="59.3">mD</text>
<text transform="translate(1441.1 415.8) scale(0.9 1.065)" font-size="58.5" font-weight="normal" stroke-width="2.3" letter-spacing="5.3">3000</text><text transform="translate(1571.2 415.8) scale(1 1.065)" font-size="58.5">mD</text>
<g font-weight="normal" font-size="57" stroke-width="2.3" letter-spacing="1.3">
<text x="306.6" y="48.8" text-anchor="end">25</text>
<text x="306.6" y="249.3" text-anchor="end">20</text>
<text x="306.6" y="452" text-anchor="end">15</text>
<text x="306.6" y="651.8" text-anchor="end">10</text>
<text x="306.6" y="853.3" text-anchor="end">5</text>
<text x="306.6" y="1054.5" text-anchor="end">0</text>
<text x="315.6" y="1099.5" text-anchor="middle">0</text>
<text x="591.2" y="1099.5" text-anchor="middle">1</text>
<text x="863.6" y="1099.5" text-anchor="middle">2</text>
<text x="1136.5" y="1099.5" text-anchor="middle">3</text>
<text x="1412" y="1099.5" text-anchor="middle">4</text>
<text x="1685.6" y="1099.5" text-anchor="middle">5</text>
</g></g>
<text transform="translate(91.2 509.2) rotate(-90)" text-anchor="middle" font-family="'Liberation Serif','Times New Roman',serif" font-weight="bold" font-size="84.5" fill="#000">Seepage resistance</text>
<text transform="translate(201.6 544.2) rotate(-90)" text-anchor="middle" font-family="'Liberation Sans',Arial,sans-serif" font-weight="bold" font-size="69.2" fill="#000">(mPa•s/D•m)</text>
<text x="1003" y="1211" text-anchor="middle" font-family="'Liberation Serif','Times New Roman',serif" font-weight="bold" font-size="84" fill="#000">PV</text>
</g>
</svg>
</body></html>
